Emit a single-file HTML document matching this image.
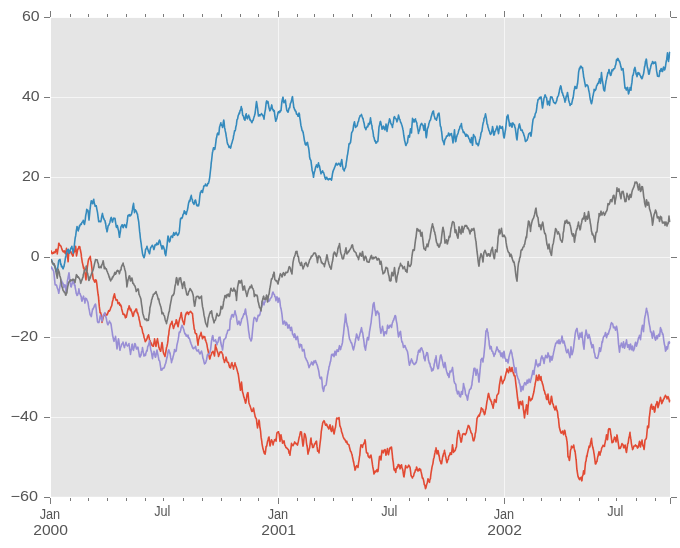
<!DOCTYPE html>
<html><head><meta charset="utf-8"><title>plot</title>
<style>html,body{margin:0;padding:0;background:#fff;}body{width:680px;height:548px;overflow:hidden;}svg{display:block;}text{font-family:"Liberation Sans",sans-serif;font-size:14px;fill:#555555;}</style>
</head><body>
<svg width="680" height="548" viewBox="0 0 680 548">
<rect x="0" y="0" width="680" height="548" fill="#ffffff"/>
<rect x="51" y="17.9" width="619" height="478.9" fill="#E5E5E5"/>
<g fill="#F5F5F5" shape-rendering="crispEdges">
<rect x="51" y="97" width="619" height="1"/>
<rect x="51" y="177" width="619" height="1"/>
<rect x="51" y="257" width="619" height="1"/>
<rect x="51" y="337" width="619" height="1"/>
<rect x="51" y="417" width="619" height="1"/>
<rect x="278" y="17.75" width="1" height="478.75"/>
<rect x="504" y="17.75" width="1" height="478.75"/>
</g>
<g fill="#7A7A7A">
<rect x="44" y="17" width="6" height="1"/>
<rect x="671" y="17" width="6" height="1"/>
<rect x="44" y="97" width="6" height="1"/>
<rect x="671" y="97" width="6" height="1"/>
<rect x="44" y="177" width="6" height="1"/>
<rect x="671" y="177" width="6" height="1"/>
<rect x="44" y="257" width="6" height="1"/>
<rect x="671" y="257" width="6" height="1"/>
<rect x="44" y="337" width="6" height="1"/>
<rect x="671" y="337" width="6" height="1"/>
<rect x="44" y="417" width="6" height="1"/>
<rect x="671" y="417" width="6" height="1"/>
<rect x="44" y="497" width="6" height="1"/>
<rect x="671" y="497" width="6" height="1"/>
<rect x="50" y="11" width="1" height="6"/>
<rect x="50" y="498" width="1" height="6"/>
<rect x="278" y="11" width="1" height="6"/>
<rect x="278" y="498" width="1" height="6"/>
<rect x="504" y="11" width="1" height="6"/>
<rect x="504" y="498" width="1" height="6"/>
<rect x="670" y="11" width="1" height="6"/>
<rect x="670" y="498" width="1" height="6"/>
<rect x="70" y="14" width="1" height="3"/>
<rect x="70" y="498" width="1" height="3"/>
<rect x="88" y="14" width="1" height="3"/>
<rect x="88" y="498" width="1" height="3"/>
<rect x="107" y="14" width="1" height="3"/>
<rect x="107" y="498" width="1" height="3"/>
<rect x="126" y="14" width="1" height="3"/>
<rect x="126" y="498" width="1" height="3"/>
<rect x="145" y="14" width="1" height="3"/>
<rect x="145" y="498" width="1" height="3"/>
<rect x="163" y="14" width="1" height="3"/>
<rect x="163" y="498" width="1" height="3"/>
<rect x="183" y="14" width="1" height="3"/>
<rect x="183" y="498" width="1" height="3"/>
<rect x="202" y="14" width="1" height="3"/>
<rect x="202" y="498" width="1" height="3"/>
<rect x="221" y="14" width="1" height="3"/>
<rect x="221" y="498" width="1" height="3"/>
<rect x="240" y="14" width="1" height="3"/>
<rect x="240" y="498" width="1" height="3"/>
<rect x="258" y="14" width="1" height="3"/>
<rect x="258" y="498" width="1" height="3"/>
<rect x="297" y="14" width="1" height="3"/>
<rect x="297" y="498" width="1" height="3"/>
<rect x="314" y="14" width="1" height="3"/>
<rect x="314" y="498" width="1" height="3"/>
<rect x="333" y="14" width="1" height="3"/>
<rect x="333" y="498" width="1" height="3"/>
<rect x="352" y="14" width="1" height="3"/>
<rect x="352" y="498" width="1" height="3"/>
<rect x="371" y="14" width="1" height="3"/>
<rect x="371" y="498" width="1" height="3"/>
<rect x="390" y="14" width="1" height="3"/>
<rect x="390" y="498" width="1" height="3"/>
<rect x="409" y="14" width="1" height="3"/>
<rect x="409" y="498" width="1" height="3"/>
<rect x="428" y="14" width="1" height="3"/>
<rect x="428" y="498" width="1" height="3"/>
<rect x="447" y="14" width="1" height="3"/>
<rect x="447" y="498" width="1" height="3"/>
<rect x="466" y="14" width="1" height="3"/>
<rect x="466" y="498" width="1" height="3"/>
<rect x="485" y="14" width="1" height="3"/>
<rect x="485" y="498" width="1" height="3"/>
<rect x="523" y="14" width="1" height="3"/>
<rect x="523" y="498" width="1" height="3"/>
<rect x="541" y="14" width="1" height="3"/>
<rect x="541" y="498" width="1" height="3"/>
<rect x="560" y="14" width="1" height="3"/>
<rect x="560" y="498" width="1" height="3"/>
<rect x="579" y="14" width="1" height="3"/>
<rect x="579" y="498" width="1" height="3"/>
<rect x="598" y="14" width="1" height="3"/>
<rect x="598" y="498" width="1" height="3"/>
<rect x="616" y="14" width="1" height="3"/>
<rect x="616" y="498" width="1" height="3"/>
<rect x="636" y="14" width="1" height="3"/>
<rect x="636" y="498" width="1" height="3"/>
<rect x="655" y="14" width="1" height="3"/>
<rect x="655" y="498" width="1" height="3"/>
</g>
<clipPath id="c"><rect x="51" y="17" width="619.5" height="480"/></clipPath>
<g clip-path="url(#c)" fill="none" stroke-width="1.6" stroke-linejoin="round" stroke-linecap="butt">
<path stroke="#E24A33" d="M51.00 250.36 L51.62 252.87 L52.24 253.77 L52.25 253.54 L52.86 252.68 L53.48 253.15 L53.50 252.83 L54.10 251.87 L54.72 252.76 L55.00 252.54 L55.34 252.03 L55.96 249.46 L56.25 249.38 L56.58 250.78 L57.20 252.48 L57.25 253.90 L57.82 249.94 L58.44 246.99 L58.75 243.18 L59.06 243.43 L59.68 245.23 L60.30 245.33 L60.62 245.87 L60.92 246.11 L61.54 248.06 L61.88 249.04 L62.16 249.94 L62.78 251.11 L63.12 251.58 L63.40 251.91 L64.02 251.03 L64.38 250.82 L64.64 251.43 L65.26 253.60 L65.62 253.74 L65.88 252.23 L66.50 248.31 L67.12 252.79 L67.50 256.77 L67.74 258.22 L68.12 261.80 L68.36 258.09 L68.75 253.30 L68.98 253.32 L69.60 252.07 L70.22 250.56 L70.62 251.52 L70.84 251.51 L71.46 253.84 L71.88 254.01 L72.08 254.27 L72.70 256.08 L73.12 256.02 L73.32 254.11 L73.94 252.25 L74.38 251.87 L74.56 251.57 L75.18 248.36 L75.62 246.33 L75.80 247.47 L76.42 255.18 L76.50 255.93 L77.04 253.03 L77.66 249.70 L78.12 248.54 L78.28 249.10 L78.90 246.64 L79.52 247.08 L79.75 246.60 L80.14 248.74 L80.76 251.76 L81.25 254.38 L81.38 256.41 L82.00 260.30 L82.25 262.25 L82.62 263.63 L83.24 266.49 L83.50 268.23 L83.86 267.22 L84.48 271.04 L84.75 271.92 L85.10 273.29 L85.72 278.51 L86.00 279.84 L86.34 275.05 L86.96 270.73 L87.25 267.85 L87.58 265.45 L88.20 261.37 L88.50 259.73 L88.82 259.00 L89.44 258.02 L90.06 257.42 L90.25 256.37 L90.68 260.16 L91.25 262.20 L91.30 263.31 L91.92 268.41 L92.25 272.23 L92.54 273.82 L93.16 278.84 L93.50 279.58 L93.78 279.66 L94.40 281.43 L94.75 282.18 L95.02 281.70 L95.62 279.84 L95.64 280.55 L96.26 280.42 L96.50 281.79 L96.88 284.38 L97.50 289.80 L98.12 294.76 L98.50 296.92 L98.74 300.28 L98.75 300.33 L99.36 306.90 L99.98 311.34 L100.00 312.65 L100.60 312.47 L101.22 314.90 L101.25 315.54 L101.84 320.76 L102.00 322.40 L102.46 320.65 L103.08 317.88 L103.70 315.23 L103.75 314.79 L104.32 315.35 L104.94 314.77 L105.50 313.69 L105.56 314.00 L106.18 314.55 L106.80 315.12 L107.00 314.61 L107.42 314.21 L108.04 312.38 L108.66 310.67 L108.75 311.11 L109.28 311.21 L109.90 310.29 L110.50 308.79 L110.52 308.29 L111.14 306.83 L111.76 305.71 L112.00 304.13 L112.38 301.75 L113.00 299.72 L113.25 298.34 L113.62 296.48 L114.24 294.92 L114.50 293.76 L114.86 295.87 L115.48 298.56 L115.75 298.98 L116.10 300.17 L116.72 299.75 L117.34 300.23 L117.50 301.39 L117.96 303.70 L118.58 302.85 L119.20 302.57 L119.50 303.82 L119.82 305.21 L120.44 304.37 L121.06 306.54 L121.25 306.08 L121.68 308.98 L122.30 311.30 L122.92 313.62 L123.00 314.31 L123.54 313.91 L124.16 314.24 L124.50 315.52 L124.78 314.79 L125.40 317.82 L126.02 317.14 L126.25 317.21 L126.64 315.55 L127.26 312.54 L127.88 309.49 L128.00 308.70 L128.50 308.92 L129.12 305.82 L129.50 306.84 L129.74 307.40 L130.36 310.36 L130.98 309.20 L131.25 311.15 L131.60 311.45 L132.22 313.56 L132.84 316.24 L133.00 316.37 L133.46 315.72 L134.08 312.23 L134.50 311.33 L134.70 311.79 L135.32 310.71 L135.94 308.96 L136.25 309.07 L136.56 309.03 L137.18 312.80 L137.50 312.54 L137.80 313.42 L138.42 315.76 L139.00 317.74 L139.04 318.95 L139.66 321.25 L140.28 324.71 L140.50 326.41 L140.90 326.31 L141.52 326.76 L142.00 328.98 L142.14 329.08 L142.76 332.80 L143.38 333.95 L143.75 335.44 L144.00 337.16 L144.62 338.84 L145.24 341.63 L145.50 341.40 L145.86 340.87 L146.48 340.03 L147.00 338.65 L147.10 338.55 L147.72 336.00 L148.34 335.76 L148.50 334.77 L148.96 336.60 L149.58 339.99 L150.00 341.51 L150.20 340.88 L150.82 344.02 L151.44 343.24 L151.50 343.98 L152.06 345.35 L152.68 345.87 L153.00 346.30 L153.30 346.26 L153.92 343.04 L154.50 340.12 L154.54 338.89 L155.16 342.23 L155.78 346.15 L156.00 346.30 L156.40 343.58 L157.02 340.70 L157.50 338.66 L157.64 340.05 L158.26 343.45 L158.88 347.50 L159.00 347.27 L159.50 349.44 L160.12 349.95 L160.50 351.17 L160.74 351.06 L161.36 346.29 L161.98 342.52 L162.00 342.44 L162.60 346.23 L163.22 351.72 L163.50 352.89 L163.84 353.85 L164.46 355.03 L165.00 356.54 L165.08 355.73 L165.70 352.48 L166.32 348.83 L166.50 347.52 L166.94 346.45 L167.56 343.43 L168.00 340.37 L168.18 337.09 L168.80 334.29 L169.00 331.45 L169.42 328.83 L170.04 326.03 L170.50 324.07 L170.66 324.31 L171.28 323.05 L171.90 321.52 L172.00 321.26 L172.52 324.43 L173.14 326.89 L173.50 328.50 L173.76 327.45 L174.38 325.72 L175.00 323.84 L175.62 323.78 L176.24 319.69 L176.50 320.13 L176.86 321.44 L177.48 324.29 L178.00 326.63 L178.10 326.70 L178.72 323.14 L179.34 320.28 L179.50 319.62 L179.96 317.98 L180.58 316.24 L181.20 312.53 L181.25 312.70 L181.82 316.42 L182.44 319.92 L182.50 320.30 L183.06 321.79 L183.68 323.35 L184.00 324.67 L184.30 323.65 L184.92 318.61 L185.50 314.91 L185.54 315.50 L186.16 313.13 L186.78 313.68 L187.00 312.19 L187.40 312.03 L188.02 312.58 L188.64 314.40 L188.75 313.42 L189.26 312.57 L189.88 312.14 L190.50 311.31 L191.12 312.04 L191.74 313.07 L192.36 313.32 L192.50 313.72 L192.98 318.96 L193.60 324.10 L193.75 324.87 L194.22 329.02 L194.84 330.15 L195.00 332.52 L195.46 333.35 L196.08 334.08 L196.50 333.78 L196.70 334.98 L197.32 340.31 L197.94 344.41 L198.00 345.13 L198.56 339.73 L199.18 338.38 L199.50 336.03 L199.80 336.16 L200.42 334.47 L201.00 332.70 L201.04 332.38 L201.66 335.55 L202.28 337.59 L202.50 338.81 L202.90 337.99 L203.52 336.44 L204.00 336.80 L204.14 337.11 L204.76 336.71 L205.38 340.33 L205.50 339.61 L206.00 341.50 L206.62 343.33 L207.00 344.85 L207.24 346.57 L207.86 349.79 L208.48 352.62 L208.50 353.75 L209.10 356.01 L209.72 359.06 L210.00 358.63 L210.34 356.78 L210.96 355.28 L211.50 353.93 L211.58 353.00 L212.20 352.08 L212.82 351.94 L213.00 351.25 L213.44 352.87 L214.06 354.34 L214.50 356.02 L214.68 354.00 L215.30 347.14 L215.50 344.91 L215.92 346.70 L216.54 348.85 L217.00 350.15 L217.16 351.00 L217.78 352.63 L218.40 355.05 L218.50 356.47 L219.02 354.96 L219.64 353.49 L220.00 352.18 L220.26 352.27 L220.88 351.76 L221.50 351.76 L222.12 353.32 L222.74 354.47 L223.00 356.27 L223.36 358.57 L223.98 359.84 L224.50 362.53 L224.60 361.40 L225.22 360.57 L225.84 359.34 L226.00 357.15 L226.46 358.72 L227.08 361.74 L227.50 362.10 L227.70 362.48 L228.32 362.21 L228.94 364.77 L229.00 365.26 L229.56 367.13 L230.18 367.81 L230.50 367.84 L230.80 366.52 L231.42 363.66 L232.00 362.70 L232.04 363.94 L232.66 365.45 L233.28 366.97 L233.50 369.12 L233.90 366.05 L234.52 365.72 L235.00 362.91 L235.14 363.66 L235.76 365.76 L236.38 367.32 L236.50 367.86 L237.00 369.59 L237.62 371.94 L238.00 373.56 L238.24 374.14 L238.86 378.28 L239.48 383.07 L239.50 382.73 L240.10 387.67 L240.50 390.26 L240.72 388.46 L241.34 383.97 L241.50 382.13 L241.96 386.36 L242.50 391.86 L242.58 391.95 L243.20 394.07 L243.82 396.97 L244.00 396.97 L244.44 398.75 L245.06 401.00 L245.50 403.15 L245.68 403.24 L246.30 399.76 L246.92 395.34 L247.00 395.10 L247.54 392.94 L248.00 392.63 L248.16 394.63 L248.78 401.37 L249.00 402.94 L249.40 404.17 L250.02 405.81 L250.50 407.27 L250.64 407.43 L251.26 409.83 L251.88 411.35 L252.00 411.26 L252.50 411.33 L253.12 409.28 L253.50 408.00 L253.74 409.19 L254.36 412.78 L254.98 415.48 L255.00 415.98 L255.60 417.79 L256.22 418.48 L256.50 419.42 L256.84 423.07 L257.46 427.04 L257.50 427.87 L258.08 424.59 L258.70 422.56 L259.00 420.13 L259.32 421.17 L259.94 427.92 L260.00 427.44 L260.56 431.02 L261.00 436.28 L261.18 437.71 L261.80 441.35 L262.00 443.58 L262.42 445.88 L263.04 449.07 L263.50 450.32 L263.66 451.34 L264.28 453.12 L264.90 452.46 L265.00 454.30 L265.52 451.77 L266.14 446.35 L266.50 446.47 L266.76 445.79 L267.38 442.04 L268.00 439.89 L268.62 437.48 L269.00 436.99 L269.24 439.19 L269.86 444.95 L270.00 445.96 L270.48 444.36 L271.10 441.06 L271.50 439.77 L271.72 440.53 L272.34 441.54 L272.96 443.84 L273.00 445.02 L273.58 442.53 L274.20 440.93 L274.50 439.73 L274.82 439.89 L275.44 439.42 L276.00 440.92 L276.06 441.13 L276.68 434.56 L277.00 432.81 L277.30 432.34 L277.92 432.56 L278.50 431.75 L278.54 432.18 L279.16 434.00 L279.78 439.75 L280.00 441.41 L280.40 438.12 L281.00 434.76 L281.02 435.07 L281.64 438.46 L282.26 441.15 L282.50 443.19 L282.88 441.40 L283.50 442.61 L284.00 440.86 L284.12 441.13 L284.74 445.02 L285.36 445.77 L285.50 446.54 L285.98 447.61 L286.60 447.64 L287.00 448.44 L287.22 448.52 L287.84 449.21 L288.46 449.77 L288.50 450.21 L289.08 453.37 L289.70 453.63 L290.00 455.27 L290.32 451.62 L290.94 448.33 L291.50 443.40 L291.56 443.53 L292.18 445.33 L292.80 445.55 L293.00 445.70 L293.42 444.81 L294.04 443.54 L294.50 442.66 L294.66 441.93 L295.28 442.94 L295.90 443.71 L296.00 443.29 L296.52 444.11 L297.14 444.12 L297.50 445.12 L297.76 443.84 L298.38 441.22 L299.00 438.07 L299.62 435.88 L300.24 432.91 L300.50 431.74 L300.86 432.00 L301.48 432.10 L301.50 433.05 L302.10 438.76 L302.72 444.19 L303.00 446.10 L303.34 444.59 L303.96 438.85 L304.50 433.48 L304.58 433.88 L305.20 434.59 L305.82 437.41 L306.00 438.20 L306.44 442.52 L307.00 446.13 L307.06 445.45 L307.68 451.23 L308.00 454.13 L308.30 452.60 L308.92 450.81 L309.50 447.73 L309.54 448.34 L310.16 443.74 L310.78 438.93 L311.00 438.12 L311.40 442.58 L312.00 444.85 L312.02 443.73 L312.64 447.54 L313.26 447.39 L313.50 447.32 L313.88 446.13 L314.50 443.92 L315.00 443.95 L315.12 443.65 L315.74 442.07 L316.36 441.19 L316.50 441.13 L316.98 446.20 L317.50 449.95 L317.60 451.17 L318.22 450.85 L318.84 452.25 L319.00 452.86 L319.46 448.48 L320.08 443.22 L320.50 439.79 L320.70 438.45 L321.32 430.96 L321.50 430.36 L321.94 427.32 L322.50 424.19 L322.56 423.50 L323.18 421.69 L323.80 421.49 L324.00 420.67 L324.42 421.44 L325.04 423.64 L325.50 425.04 L325.66 425.27 L326.28 424.06 L326.90 424.62 L327.00 425.52 L327.52 426.81 L328.14 427.60 L328.50 428.26 L328.76 429.04 L329.38 426.33 L330.00 424.71 L330.62 428.70 L331.24 430.96 L331.50 431.54 L331.86 430.03 L332.48 426.75 L332.50 425.98 L333.10 429.27 L333.72 432.60 L334.00 433.93 L334.34 432.67 L334.96 429.04 L335.50 427.33 L335.58 426.63 L336.20 421.76 L336.50 419.26 L336.82 418.06 L337.44 418.18 L338.00 418.84 L338.06 418.70 L338.68 418.65 L339.00 417.47 L339.30 420.18 L339.92 426.21 L340.00 425.70 L340.54 427.29 L341.16 428.95 L341.50 431.59 L341.78 432.20 L342.40 433.85 L343.00 436.29 L343.02 436.22 L343.64 437.95 L344.26 439.17 L344.50 439.01 L344.88 439.62 L345.50 440.95 L346.00 441.48 L346.12 442.27 L346.74 441.20 L347.36 443.76 L347.50 443.77 L347.98 444.26 L348.60 444.49 L349.00 444.98 L349.22 446.26 L349.84 448.64 L350.46 451.17 L350.50 450.95 L351.08 451.82 L351.70 453.73 L352.00 454.50 L352.32 456.24 L352.94 459.11 L353.50 462.00 L353.56 461.42 L354.18 465.34 L354.80 468.16 L355.00 470.11 L355.42 469.19 L356.04 466.70 L356.50 466.11 L356.66 465.68 L357.28 466.35 L357.90 467.17 L358.00 467.49 L358.52 463.16 L359.14 459.53 L359.50 456.43 L359.76 455.58 L360.38 448.44 L361.00 444.69 L361.62 445.48 L362.24 445.86 L362.50 447.42 L362.86 445.15 L363.48 444.21 L364.00 443.27 L364.10 443.11 L364.72 441.61 L365.00 439.83 L365.34 441.36 L365.96 448.11 L366.50 452.54 L366.58 452.94 L367.20 452.94 L367.82 453.31 L368.00 455.59 L368.44 456.71 L369.06 457.33 L369.50 457.86 L369.68 457.77 L370.30 455.53 L370.92 455.83 L371.00 455.05 L371.54 458.49 L372.16 462.43 L372.50 464.98 L372.78 466.73 L373.40 469.97 L374.00 474.02 L374.02 473.86 L374.64 472.62 L375.26 471.05 L375.50 471.59 L375.88 471.84 L376.50 470.90 L377.00 469.48 L377.12 469.91 L377.74 471.62 L378.00 471.26 L378.36 468.54 L378.98 461.14 L379.50 456.47 L379.60 456.87 L380.22 456.34 L380.84 459.32 L381.00 459.93 L381.46 455.19 L382.00 450.25 L382.08 451.72 L382.70 451.35 L383.32 452.81 L383.50 452.13 L383.94 450.17 L384.56 450.05 L385.00 449.61 L385.18 449.98 L385.80 454.27 L386.00 455.22 L386.42 452.94 L387.04 450.62 L387.50 448.54 L387.66 450.43 L388.28 454.47 L388.50 454.64 L388.90 452.41 L389.52 449.59 L390.00 447.92 L390.14 448.58 L390.76 447.22 L391.38 448.58 L391.50 447.16 L392.00 451.87 L392.50 456.62 L392.62 458.50 L393.24 462.13 L393.86 468.14 L394.00 469.46 L394.48 470.37 L395.10 469.05 L395.50 471.33 L395.72 472.36 L396.34 468.34 L396.96 468.24 L397.00 466.92 L397.58 467.45 L398.20 464.51 L398.50 464.73 L398.82 466.04 L399.44 465.22 L400.00 468.35 L400.06 468.83 L400.68 465.98 L401.30 465.49 L401.50 464.73 L401.92 467.69 L402.54 468.98 L403.00 470.99 L403.16 472.62 L403.78 476.59 L404.00 476.96 L404.40 474.33 L405.02 470.03 L405.50 466.11 L405.64 465.58 L406.26 467.51 L406.88 467.61 L407.00 467.62 L407.50 467.77 L408.12 466.44 L408.50 465.54 L408.74 465.21 L409.36 466.20 L409.98 467.41 L410.00 467.14 L410.60 471.52 L411.00 475.25 L411.22 476.03 L411.84 476.75 L412.46 478.04 L412.50 477.18 L413.08 476.69 L413.70 475.73 L414.00 474.02 L414.32 473.04 L414.94 472.03 L415.50 469.64 L415.56 469.54 L416.18 469.74 L416.50 467.04 L416.80 467.44 L417.42 470.38 L418.00 471.07 L418.04 470.79 L418.66 469.37 L419.28 470.29 L419.50 468.58 L419.90 469.22 L420.52 469.18 L421.00 471.47 L421.14 471.83 L421.76 474.77 L422.38 478.11 L422.50 477.54 L423.00 478.33 L423.62 480.52 L424.00 482.52 L424.24 484.42 L424.86 485.24 L425.48 488.49 L425.50 488.71 L426.10 487.21 L426.72 484.06 L427.00 483.84 L427.34 482.60 L427.96 478.92 L428.00 478.72 L428.58 480.44 L429.20 481.76 L429.50 482.35 L429.82 479.80 L430.44 478.63 L430.50 477.44 L431.06 472.97 L431.68 469.25 L432.00 467.15 L432.30 465.86 L432.92 463.62 L433.50 459.37 L433.54 458.97 L434.16 457.24 L434.78 453.39 L435.00 452.72 L435.40 450.37 L436.00 449.49 L436.02 447.76 L436.64 451.63 L437.00 453.96 L437.26 453.76 L437.88 452.03 L438.00 450.48 L438.50 452.76 L439.00 456.14 L439.12 455.31 L439.74 459.66 L440.36 461.61 L440.50 461.00 L440.98 463.73 L441.50 463.37 L441.60 463.64 L442.22 459.58 L442.84 455.83 L443.00 456.36 L443.46 453.68 L444.08 452.95 L444.50 450.25 L444.70 451.72 L445.32 454.88 L445.50 456.29 L445.94 457.64 L446.56 461.24 L447.00 462.67 L447.18 461.95 L447.80 459.74 L448.42 459.15 L448.50 457.31 L449.04 455.84 L449.66 455.14 L450.00 453.75 L450.28 452.75 L450.90 454.10 L451.50 454.39 L451.52 453.61 L452.14 448.56 L452.50 444.68 L452.76 446.64 L453.38 450.37 L453.50 452.44 L454.00 451.30 L454.62 451.19 L455.00 450.58 L455.24 450.31 L455.86 447.96 L456.48 446.83 L456.50 446.28 L457.10 438.54 L457.50 436.34 L457.72 434.08 L458.34 432.08 L458.50 430.56 L458.96 432.39 L459.58 433.77 L460.00 436.90 L460.20 437.68 L460.82 441.33 L461.00 442.11 L461.44 441.69 L462.06 437.52 L462.50 434.98 L462.68 434.16 L463.30 434.10 L463.92 433.65 L464.00 433.63 L464.54 433.97 L465.16 434.89 L465.50 434.01 L465.78 433.82 L466.40 432.57 L467.00 429.62 L467.02 429.81 L467.64 427.81 L468.26 425.42 L468.50 425.77 L468.88 425.84 L469.50 427.32 L470.12 429.56 L470.74 431.35 L471.00 432.58 L471.36 433.14 L471.98 433.80 L472.50 436.65 L472.60 437.01 L473.22 440.66 L473.50 440.74 L473.84 440.85 L474.46 438.63 L475.00 436.24 L475.08 434.27 L475.70 431.95 L476.00 429.81 L476.32 426.26 L476.94 419.46 L477.00 418.50 L477.56 417.45 L478.18 416.20 L478.50 415.91 L478.80 415.08 L479.42 416.07 L480.00 413.42 L480.04 413.50 L480.66 412.09 L481.28 407.74 L481.50 408.17 L481.90 408.81 L482.52 408.94 L483.00 409.93 L483.14 411.50 L483.76 411.97 L484.38 414.33 L484.50 414.62 L485.00 413.68 L485.62 409.32 L486.00 409.09 L486.24 406.58 L486.86 402.21 L487.00 401.42 L487.48 399.19 L488.10 395.00 L488.50 393.42 L488.72 393.90 L489.34 397.12 L489.96 398.79 L490.00 399.73 L490.58 399.67 L491.20 401.71 L491.50 401.49 L491.82 404.00 L492.44 405.18 L493.00 407.67 L493.06 408.26 L493.68 404.60 L494.30 400.70 L494.50 399.63 L494.92 401.26 L495.54 400.37 L496.00 402.37 L496.16 402.05 L496.78 396.47 L497.00 395.13 L497.40 394.81 L498.02 394.06 L498.50 393.30 L498.64 392.34 L499.26 386.66 L499.50 384.66 L499.88 382.58 L500.50 378.71 L501.00 376.36 L501.12 377.71 L501.74 380.50 L502.36 382.56 L502.50 383.81 L502.98 382.55 L503.60 380.67 L504.00 380.36 L504.22 379.88 L504.84 378.15 L505.46 375.49 L505.50 375.51 L506.08 372.84 L506.70 371.05 L507.00 368.69 L507.32 369.53 L507.94 370.92 L508.50 372.63 L508.56 372.16 L509.18 369.96 L509.50 366.97 L509.80 367.67 L510.42 370.60 L511.00 371.46 L511.04 371.59 L511.66 369.14 L512.00 367.49 L512.28 368.89 L512.90 371.63 L513.50 373.78 L513.52 372.47 L514.14 375.78 L514.76 375.51 L515.00 376.09 L515.38 379.34 L516.00 384.80 L516.62 389.55 L517.24 395.27 L517.50 397.75 L517.86 399.99 L518.48 405.18 L519.00 408.37 L519.10 408.53 L519.72 402.55 L520.00 401.45 L520.34 401.58 L520.96 403.23 L521.50 404.65 L521.58 403.81 L522.20 402.22 L522.50 400.98 L522.82 403.89 L523.44 410.27 L523.50 409.76 L524.06 414.26 L524.50 417.97 L524.68 416.13 L525.30 411.58 L525.50 410.07 L525.92 408.63 L526.50 404.80 L526.54 405.20 L527.16 410.66 L527.50 414.09 L527.78 409.78 L528.40 403.37 L529.00 396.47 L529.02 396.73 L529.64 397.89 L530.26 399.73 L530.50 400.73 L530.88 400.24 L531.50 399.40 L532.00 398.33 L532.12 398.94 L532.74 396.40 L533.36 394.05 L533.50 393.60 L533.98 391.28 L534.60 387.13 L535.00 385.14 L535.22 383.38 L535.84 380.84 L536.46 375.34 L536.50 375.95 L537.08 378.96 L537.70 379.98 L538.00 380.46 L538.32 377.69 L538.94 375.34 L539.00 374.78 L539.56 377.94 L540.00 379.45 L540.18 380.08 L540.80 377.79 L541.00 376.64 L541.42 380.61 L542.04 381.77 L542.50 384.10 L542.66 383.93 L543.28 386.35 L543.90 390.20 L544.00 390.23 L544.52 391.21 L545.14 393.97 L545.50 394.63 L545.76 394.43 L546.38 398.70 L547.00 399.68 L547.62 396.64 L548.00 394.05 L548.24 396.11 L548.86 402.34 L549.00 402.60 L549.48 403.67 L550.00 404.50 L550.10 404.24 L550.72 400.79 L551.34 396.47 L551.50 396.24 L551.96 398.86 L552.50 403.30 L552.58 403.63 L553.20 404.28 L553.82 407.32 L554.00 407.01 L554.44 408.42 L555.00 410.01 L555.06 409.36 L555.68 408.19 L556.00 406.15 L556.30 407.82 L556.92 410.35 L557.50 411.89 L557.54 412.19 L558.16 417.95 L558.50 418.52 L558.78 422.04 L559.40 427.83 L559.50 427.49 L560.02 430.11 L560.64 431.94 L561.00 432.83 L561.26 433.11 L561.88 432.28 L562.50 430.97 L563.12 433.26 L563.50 434.62 L563.74 433.68 L564.36 431.10 L564.50 430.23 L564.98 431.03 L565.60 435.19 L566.00 436.60 L566.22 436.71 L566.84 440.50 L567.00 441.06 L567.46 446.31 L568.00 456.84 L568.08 456.65 L568.70 457.01 L569.32 460.44 L569.50 460.20 L569.94 456.59 L570.50 450.21 L570.56 450.15 L571.18 448.46 L571.50 446.17 L571.80 446.94 L572.42 447.10 L572.50 447.68 L573.04 446.80 L573.50 445.57 L573.66 445.00 L574.28 448.75 L574.90 451.57 L575.00 450.90 L575.52 454.91 L576.00 459.23 L576.14 459.73 L576.76 467.70 L577.00 470.22 L577.38 472.50 L578.00 476.29 L578.62 477.99 L579.24 479.14 L579.50 479.54 L579.86 477.99 L580.48 478.36 L581.00 477.28 L581.10 478.80 L581.72 480.85 L582.00 480.31 L582.34 476.51 L582.96 475.10 L583.50 471.28 L583.58 470.69 L584.20 472.15 L584.50 474.05 L584.82 469.70 L585.44 463.12 L585.50 462.52 L586.06 460.83 L586.68 455.71 L587.00 456.59 L587.30 454.18 L587.92 451.37 L588.50 448.92 L588.54 448.94 L589.16 446.03 L589.78 447.04 L590.00 446.21 L590.40 443.53 L591.02 440.72 L591.50 438.30 L591.64 440.35 L592.26 445.48 L592.50 446.07 L592.88 447.82 L593.50 450.23 L594.00 453.55 L594.12 453.84 L594.74 458.70 L595.36 464.03 L595.50 464.04 L595.98 463.63 L596.60 461.24 L597.00 461.48 L597.22 459.65 L597.84 456.43 L598.00 456.46 L598.46 453.88 L599.00 451.95 L599.08 451.68 L599.70 453.66 L600.00 455.21 L600.32 452.85 L600.94 451.56 L601.50 449.19 L601.56 448.52 L602.18 446.92 L602.80 446.72 L603.00 445.19 L603.42 445.97 L604.04 445.65 L604.50 446.33 L604.66 444.70 L605.28 441.80 L605.50 440.16 L605.90 439.23 L606.50 434.90 L606.52 435.41 L607.14 436.97 L607.50 439.78 L607.76 437.46 L608.38 429.80 L608.50 429.47 L609.00 428.62 L609.62 429.28 L610.00 428.92 L610.24 429.92 L610.86 434.58 L611.00 434.84 L611.48 438.68 L612.00 442.65 L612.10 442.76 L612.72 441.96 L613.34 441.90 L613.50 440.32 L613.96 439.47 L614.58 437.06 L615.00 437.74 L615.20 437.61 L615.82 440.77 L616.00 441.86 L616.44 439.21 L617.00 434.92 L617.06 435.18 L617.68 439.30 L618.00 441.16 L618.30 443.48 L618.92 447.46 L619.00 448.60 L619.54 447.45 L620.16 448.38 L620.50 447.75 L620.78 447.26 L621.40 445.48 L622.00 443.58 L622.02 444.19 L622.64 444.27 L623.26 445.15 L623.50 447.17 L623.88 447.91 L624.50 446.00 L625.00 445.43 L625.12 445.06 L625.74 449.16 L626.36 452.46 L626.50 452.28 L626.98 448.84 L627.50 445.30 L627.60 444.21 L628.22 442.88 L628.84 437.94 L629.00 437.79 L629.46 435.49 L630.00 432.29 L630.08 434.33 L630.70 438.22 L631.00 439.79 L631.32 443.04 L631.94 446.43 L632.50 448.64 L632.56 449.74 L633.18 448.45 L633.80 446.23 L634.00 446.09 L634.42 445.98 L635.04 445.84 L635.50 444.94 L635.66 445.87 L636.28 445.72 L636.90 446.05 L637.00 447.03 L637.52 448.12 L638.14 447.29 L638.50 446.58 L638.76 444.95 L639.38 441.91 L639.50 441.39 L640.00 444.45 L640.50 447.02 L640.62 445.76 L641.24 442.59 L641.86 440.76 L642.00 439.96 L642.48 443.99 L643.00 445.95 L643.10 445.18 L643.72 447.21 L644.00 449.49 L644.34 447.61 L644.96 440.62 L645.00 440.30 L645.58 439.41 L646.20 438.78 L646.50 437.30 L646.82 434.18 L647.44 427.55 L647.50 426.17 L648.06 427.01 L648.50 427.62 L648.68 426.74 L649.30 416.96 L649.50 416.10 L649.92 412.84 L650.50 407.43 L650.54 407.29 L651.16 405.33 L651.50 404.23 L651.78 406.04 L652.40 409.23 L652.50 408.65 L653.02 407.76 L653.50 406.56 L653.64 406.67 L654.26 410.94 L654.50 412.14 L654.88 411.23 L655.50 406.73 L656.12 404.04 L656.74 403.52 L657.00 401.49 L657.36 402.22 L657.98 407.72 L658.00 407.57 L658.60 405.60 L659.00 403.94 L659.22 402.44 L659.84 400.77 L660.46 397.40 L660.50 397.53 L661.08 400.11 L661.50 401.80 L661.70 403.67 L662.32 402.21 L662.94 400.01 L663.00 401.08 L663.56 399.11 L664.18 398.56 L664.50 396.82 L664.80 397.36 L665.42 395.27 L665.50 395.77 L666.04 396.24 L666.66 397.18 L667.00 398.92 L667.28 398.10 L667.90 397.54 L668.00 396.54 L668.52 397.75 L669.14 399.99 L669.50 401.80 L669.76 400.88 L670.00 399.53"/>
<path stroke="#348ABD" d="M51.00 259.40 L51.62 259.84 L52.24 262.13 L52.50 262.54 L52.86 263.80 L53.48 263.48 L53.75 264.88 L54.10 265.17 L54.72 266.19 L55.00 267.26 L55.34 268.33 L55.96 270.66 L56.25 271.63 L56.58 271.35 L57.20 269.12 L57.50 267.85 L57.82 267.50 L58.44 262.36 L58.75 260.41 L59.06 260.50 L59.68 259.86 L60.00 259.39 L60.30 261.20 L60.62 264.43 L60.92 263.75 L61.54 266.76 L61.88 265.90 L62.16 266.67 L62.78 268.08 L63.12 268.81 L63.40 267.74 L64.02 266.41 L64.38 263.98 L64.64 263.13 L65.26 259.03 L65.62 256.72 L65.88 256.83 L66.50 252.61 L66.88 251.82 L67.12 250.00 L67.74 250.68 L68.12 249.51 L68.36 249.28 L68.98 253.27 L69.38 252.66 L69.60 251.85 L70.22 250.41 L70.62 248.94 L70.84 248.11 L71.46 247.92 L71.88 246.24 L72.08 247.99 L72.70 249.69 L73.12 253.12 L73.32 250.95 L73.94 248.99 L74.38 245.25 L74.56 243.27 L75.18 237.92 L75.62 235.99 L75.80 234.84 L76.42 229.77 L76.50 230.04 L77.00 226.74 L77.04 226.50 L77.66 228.34 L78.25 230.94 L78.28 230.33 L78.90 228.66 L79.50 225.62 L79.52 226.79 L80.14 225.00 L80.76 224.00 L81.25 224.49 L81.38 223.74 L82.00 222.46 L82.62 221.97 L83.00 221.68 L83.24 220.35 L83.86 223.10 L84.48 224.26 L84.50 224.42 L85.10 220.98 L85.72 215.35 L86.34 212.61 L86.75 209.40 L86.96 209.70 L87.58 210.09 L88.00 210.62 L88.20 212.04 L88.82 218.13 L89.00 220.07 L89.44 215.77 L90.00 209.71 L90.06 209.40 L90.68 204.32 L91.25 200.89 L91.30 202.25 L91.92 201.11 L92.50 203.46 L92.54 203.76 L93.16 201.14 L93.75 199.20 L93.78 200.07 L94.40 203.63 L95.00 205.35 L95.02 206.13 L95.64 205.56 L96.25 205.96 L96.26 205.88 L96.88 209.31 L97.50 212.35 L98.12 217.03 L98.74 221.67 L98.75 220.69 L99.36 221.12 L99.98 221.61 L100.60 221.42 L100.75 221.75 L101.22 219.63 L101.84 215.96 L102.46 213.41 L102.50 214.19 L103.08 216.39 L103.70 218.83 L103.75 218.31 L104.32 219.99 L104.94 220.51 L105.50 223.63 L105.56 222.92 L106.18 227.93 L106.80 230.00 L107.00 231.80 L107.42 229.99 L108.04 226.48 L108.25 225.54 L108.66 225.48 L109.28 224.00 L109.90 222.47 L110.00 221.90 L110.52 219.53 L111.14 217.54 L111.25 217.34 L111.76 219.30 L112.38 222.09 L112.50 221.95 L113.00 219.93 L113.62 218.19 L113.75 218.61 L114.24 218.35 L114.86 218.40 L115.00 218.32 L115.48 221.82 L116.10 225.60 L116.25 226.83 L116.72 227.53 L117.34 225.59 L117.96 228.11 L118.00 229.08 L118.58 230.72 L119.20 235.33 L119.50 237.30 L119.82 234.76 L120.44 231.36 L120.75 227.89 L121.06 226.56 L121.68 225.70 L122.00 224.79 L122.30 224.84 L122.92 227.24 L123.25 227.58 L123.54 226.81 L124.16 225.03 L124.50 224.57 L124.78 224.89 L125.40 225.53 L126.02 227.46 L126.25 227.60 L126.64 224.94 L127.26 221.21 L127.88 215.78 L128.00 215.71 L128.50 214.97 L129.12 215.75 L129.50 214.64 L129.74 216.05 L130.36 215.85 L130.98 214.66 L131.25 214.69 L131.60 213.80 L132.22 210.53 L132.50 209.46 L132.84 206.63 L133.46 203.92 L133.50 203.30 L134.08 208.90 L134.50 212.59 L134.70 211.59 L135.32 209.78 L135.75 210.67 L135.94 210.66 L136.56 211.88 L137.18 214.08 L137.50 213.97 L137.80 216.98 L138.42 220.02 L138.75 222.19 L139.04 225.26 L139.66 231.66 L140.00 234.15 L140.28 237.50 L140.90 241.78 L141.25 244.23 L141.52 246.82 L142.14 250.97 L142.50 253.61 L142.76 254.63 L143.38 256.44 L144.00 257.79 L144.62 255.81 L145.24 252.06 L145.50 249.72 L145.86 249.10 L146.48 248.39 L147.00 246.26 L147.10 247.33 L147.72 248.96 L148.25 250.47 L148.34 251.19 L148.96 252.42 L149.50 253.73 L149.58 253.63 L150.20 249.63 L150.82 247.16 L151.25 246.98 L151.44 246.66 L152.06 245.53 L152.50 245.34 L152.68 246.15 L153.30 247.34 L153.75 249.31 L153.92 249.59 L154.54 247.30 L155.00 245.54 L155.16 244.73 L155.78 244.50 L156.40 244.96 L156.75 243.11 L157.02 244.73 L157.64 243.59 L158.00 244.44 L158.26 244.21 L158.88 241.32 L159.50 240.02 L160.12 241.28 L160.74 244.93 L160.75 244.82 L161.36 246.24 L161.98 249.06 L162.00 248.89 L162.60 245.93 L163.22 247.75 L163.25 245.93 L163.84 248.10 L164.46 249.65 L164.50 249.55 L165.08 254.06 L165.70 254.22 L165.75 255.66 L166.32 250.90 L166.94 246.08 L167.00 245.94 L167.56 240.06 L168.00 236.13 L168.18 236.31 L168.80 239.49 L169.42 241.90 L169.50 241.73 L170.04 240.84 L170.66 237.32 L171.25 236.03 L171.28 236.26 L171.90 236.28 L172.50 236.79 L172.52 237.55 L173.14 234.60 L173.75 233.17 L173.76 232.58 L174.38 235.10 L175.00 234.49 L175.62 233.16 L176.24 232.34 L176.25 232.44 L176.86 234.15 L177.48 234.50 L177.50 235.42 L178.10 234.82 L178.72 233.89 L179.25 231.72 L179.34 231.18 L179.96 224.50 L180.50 218.86 L180.58 219.18 L181.20 217.86 L181.82 218.46 L182.44 216.93 L182.50 216.99 L183.06 214.43 L183.68 213.85 L184.30 210.69 L184.50 211.56 L184.92 213.06 L185.54 212.14 L186.16 214.47 L186.25 214.39 L186.78 211.74 L187.40 210.18 L188.00 207.02 L188.02 206.57 L188.64 202.92 L189.26 200.99 L189.50 200.33 L189.88 201.33 L190.50 198.07 L191.12 196.00 L191.25 195.37 L191.74 198.92 L192.36 199.37 L192.50 201.17 L192.98 202.71 L193.60 203.55 L194.00 204.31 L194.22 203.73 L194.84 200.77 L195.46 200.09 L195.50 199.97 L196.08 202.54 L196.70 205.23 L197.00 205.55 L197.32 205.96 L197.94 205.03 L198.50 205.62 L198.56 205.83 L199.18 202.63 L199.80 196.48 L200.00 195.01 L200.42 192.41 L201.04 192.00 L201.25 190.99 L201.66 190.68 L202.28 191.24 L202.50 192.54 L202.90 190.22 L203.52 187.88 L203.75 186.18 L204.14 185.69 L204.76 185.84 L205.38 184.48 L205.50 183.97 L206.00 185.62 L206.62 185.77 L207.00 185.97 L207.24 185.18 L207.86 183.31 L208.48 183.33 L208.75 182.39 L209.10 180.76 L209.72 177.27 L210.00 174.77 L210.34 171.73 L210.96 166.29 L211.25 162.52 L211.58 160.51 L212.20 154.76 L212.50 152.23 L212.82 151.19 L213.44 147.79 L213.75 148.20 L214.06 147.82 L214.68 149.50 L215.00 148.40 L215.30 146.44 L215.92 141.63 L216.25 138.69 L216.54 137.86 L217.16 134.58 L217.50 133.45 L217.78 133.04 L218.40 134.25 L218.75 134.77 L219.02 132.47 L219.50 127.40 L219.64 126.68 L220.26 125.08 L220.88 122.71 L221.00 123.65 L221.50 125.29 L222.12 125.61 L222.50 127.43 L222.74 126.54 L223.36 121.85 L223.75 120.05 L223.98 121.31 L224.60 127.68 L225.00 129.14 L225.22 130.91 L225.84 133.31 L226.25 136.43 L226.46 137.39 L227.08 141.49 L227.50 143.59 L227.70 144.30 L228.32 144.98 L228.94 147.08 L229.00 147.50 L229.56 146.40 L230.18 146.85 L230.50 148.14 L230.80 147.46 L231.42 144.36 L232.00 142.67 L232.04 142.64 L232.66 140.14 L233.28 138.15 L233.50 136.07 L233.90 134.72 L234.50 131.31 L234.52 130.74 L235.14 130.81 L235.50 129.63 L235.76 127.21 L236.38 124.90 L237.00 119.69 L237.62 118.88 L238.00 116.55 L238.24 115.48 L238.86 114.19 L239.48 112.20 L239.50 113.73 L240.10 110.27 L240.72 110.16 L241.25 106.52 L241.34 107.53 L241.96 108.89 L242.50 113.65 L242.58 114.96 L243.20 115.76 L243.82 117.56 L244.00 118.61 L244.44 119.57 L245.00 120.25 L245.06 119.53 L245.68 115.13 L246.25 113.84 L246.30 114.64 L246.92 118.07 L247.50 118.80 L247.54 118.75 L248.16 116.38 L248.75 115.21 L248.78 116.38 L249.40 116.88 L250.00 120.02 L250.02 119.28 L250.64 120.30 L251.26 121.44 L251.88 122.70 L252.00 122.26 L252.50 120.86 L253.12 120.27 L253.74 117.89 L253.75 117.70 L254.36 115.95 L254.98 113.67 L255.00 113.87 L255.60 109.12 L256.22 103.58 L256.50 101.54 L256.84 103.37 L257.46 107.89 L257.50 107.50 L258.08 113.09 L258.50 116.06 L258.70 115.68 L259.32 114.73 L259.94 115.91 L260.00 115.14 L260.56 114.68 L261.18 114.46 L261.50 113.51 L261.80 114.32 L262.42 114.92 L263.00 115.71 L263.04 116.16 L263.66 117.27 L264.00 119.16 L264.28 116.34 L264.90 112.30 L265.50 109.03 L265.52 108.59 L266.14 102.99 L266.50 101.31 L266.76 100.84 L267.38 102.91 L268.00 101.69 L268.62 105.65 L269.00 107.96 L269.24 108.46 L269.86 110.81 L270.48 109.89 L270.50 109.72 L271.10 107.80 L271.72 104.91 L271.75 104.99 L272.34 108.55 L272.96 110.07 L273.00 109.21 L273.58 111.10 L274.20 110.49 L274.25 110.69 L274.82 115.58 L275.44 119.46 L275.75 121.26 L276.06 120.23 L276.68 118.97 L277.00 117.66 L277.30 116.18 L277.92 113.25 L278.00 112.44 L278.54 111.78 L279.16 112.53 L279.50 111.18 L279.78 112.44 L280.40 110.96 L281.00 110.02 L281.02 110.63 L281.64 104.04 L282.00 101.19 L282.26 99.90 L282.88 97.51 L283.00 97.20 L283.50 101.24 L284.00 102.65 L284.12 101.63 L284.74 101.29 L285.36 100.07 L285.50 101.46 L285.98 105.24 L286.60 109.19 L286.75 110.10 L287.22 111.13 L287.84 112.05 L288.00 112.18 L288.46 110.78 L289.08 108.05 L289.50 107.77 L289.70 107.79 L290.32 103.59 L290.94 102.53 L291.00 102.17 L291.56 100.53 L292.18 97.38 L292.50 96.66 L292.80 99.74 L293.42 104.19 L293.75 107.36 L294.04 107.66 L294.66 109.73 L295.00 109.73 L295.28 111.01 L295.90 111.25 L296.50 114.05 L296.52 114.12 L297.14 113.98 L297.76 115.29 L298.00 116.29 L298.38 116.01 L299.00 113.03 L299.50 114.56 L299.62 116.54 L300.24 120.10 L300.50 122.11 L300.86 125.17 L301.48 127.57 L302.00 130.05 L302.10 130.69 L302.72 130.92 L303.00 132.31 L303.34 133.67 L303.96 137.28 L304.50 141.16 L304.58 140.69 L305.20 144.15 L305.82 144.91 L306.00 145.24 L306.44 143.07 L307.06 143.07 L307.50 142.45 L307.68 143.51 L308.30 146.82 L308.50 147.27 L308.92 149.99 L309.50 155.27 L309.54 156.78 L310.16 159.24 L310.78 160.13 L311.00 161.02 L311.40 164.38 L312.00 168.88 L312.02 170.12 L312.64 172.10 L313.26 175.14 L313.50 177.30 L313.88 174.70 L314.50 171.71 L315.00 170.15 L315.12 169.46 L315.74 166.77 L316.36 165.27 L316.50 164.88 L316.98 166.04 L317.50 167.29 L317.60 167.46 L318.22 164.00 L318.50 162.83 L318.84 165.06 L319.46 166.01 L320.00 168.96 L320.08 169.57 L320.70 172.03 L321.00 173.81 L321.32 172.15 L321.94 172.36 L322.50 170.95 L322.56 170.73 L323.18 172.57 L323.80 172.89 L324.00 173.79 L324.42 175.44 L325.04 177.96 L325.50 178.86 L325.66 179.35 L326.28 177.56 L326.90 177.32 L327.00 177.68 L327.52 179.20 L328.14 179.72 L328.50 179.85 L328.76 179.02 L329.38 178.58 L330.00 179.07 L330.62 178.57 L331.24 179.61 L331.50 180.18 L331.86 178.21 L332.48 173.78 L333.00 171.81 L333.10 171.11 L333.72 169.65 L334.34 168.47 L334.50 167.41 L334.96 166.84 L335.58 164.70 L336.00 163.50 L336.20 163.24 L336.82 164.70 L337.44 165.02 L337.50 164.95 L338.06 163.93 L338.68 163.25 L339.00 163.22 L339.30 164.43 L339.92 164.81 L340.50 166.32 L340.54 164.73 L341.16 162.13 L341.75 159.80 L341.78 159.56 L342.40 165.04 L343.00 168.16 L343.02 169.10 L343.64 169.55 L344.26 170.94 L344.50 169.36 L344.88 168.68 L345.50 167.54 L346.00 165.26 L346.12 163.53 L346.74 159.81 L347.36 155.12 L347.50 155.02 L347.98 151.88 L348.60 147.71 L349.00 143.91 L349.22 144.20 L349.84 143.80 L350.46 141.95 L350.50 142.69 L351.08 138.11 L351.50 133.70 L351.70 132.57 L352.32 131.81 L352.94 130.26 L353.00 130.19 L353.56 125.47 L354.18 122.85 L354.50 121.82 L354.80 124.03 L355.42 126.89 L355.50 127.42 L356.04 126.86 L356.66 125.85 L357.00 126.12 L357.28 125.29 L357.90 122.40 L358.50 121.23 L358.52 121.37 L359.14 118.21 L359.76 116.73 L360.00 115.81 L360.38 115.83 L361.00 115.24 L361.50 114.35 L361.62 114.89 L362.24 116.98 L362.86 118.83 L363.00 118.37 L363.48 120.92 L364.10 123.24 L364.50 125.72 L364.72 127.33 L365.34 128.19 L365.96 129.58 L366.00 128.97 L366.58 127.43 L367.20 126.90 L367.50 126.10 L367.82 126.81 L368.44 123.42 L369.06 124.58 L369.50 123.59 L369.68 123.22 L370.30 119.99 L370.50 117.82 L370.92 121.27 L371.54 124.48 L372.00 125.81 L372.16 128.60 L372.78 130.62 L373.40 134.63 L373.50 136.52 L374.02 137.48 L374.64 140.21 L375.00 141.24 L375.26 140.75 L375.88 143.11 L376.50 142.92 L377.12 141.52 L377.74 141.54 L378.00 140.00 L378.36 135.68 L378.98 127.54 L379.00 127.13 L379.60 124.76 L380.22 121.75 L380.50 121.37 L380.84 123.06 L381.46 125.65 L382.00 129.11 L382.08 128.88 L382.70 128.87 L383.32 126.28 L383.50 126.14 L383.94 126.83 L384.56 129.07 L385.00 129.95 L385.18 128.90 L385.80 126.23 L386.00 123.97 L386.42 126.46 L387.00 131.36 L387.04 130.84 L387.66 127.24 L388.00 125.44 L388.28 124.29 L388.90 121.90 L389.50 119.04 L389.52 118.84 L390.14 120.31 L390.76 122.95 L391.00 123.70 L391.38 124.51 L392.00 125.40 L392.50 127.46 L392.62 125.39 L393.24 123.21 L393.86 118.50 L394.00 117.21 L394.48 116.67 L395.10 117.90 L395.50 118.36 L395.72 118.44 L396.34 119.49 L396.96 121.82 L397.00 121.36 L397.58 120.14 L398.20 117.11 L398.50 115.11 L398.82 116.85 L399.44 118.81 L400.00 119.68 L400.06 120.14 L400.68 122.51 L401.30 123.34 L401.50 124.15 L401.92 125.36 L402.54 127.60 L403.00 129.91 L403.16 130.34 L403.78 135.48 L404.40 138.84 L404.50 140.10 L405.02 141.96 L405.64 144.95 L406.00 145.50 L406.26 144.18 L406.88 143.41 L407.50 142.45 L408.12 137.42 L408.50 135.51 L408.74 136.47 L409.36 137.00 L409.50 137.11 L409.98 132.85 L410.50 128.76 L410.60 130.23 L411.22 130.55 L411.50 132.91 L411.84 126.82 L412.46 119.55 L412.50 118.42 L413.08 119.71 L413.70 119.68 L414.00 122.17 L414.32 121.49 L414.94 119.70 L415.50 118.90 L415.56 119.65 L416.18 121.75 L416.80 122.81 L417.00 124.64 L417.42 127.00 L418.04 130.11 L418.50 133.52 L418.66 131.36 L419.28 131.01 L419.90 128.60 L420.00 127.44 L420.52 125.31 L421.14 123.85 L421.50 123.66 L421.76 123.43 L422.38 124.97 L423.00 125.25 L423.62 128.91 L424.00 130.33 L424.24 128.26 L424.86 124.69 L425.00 123.67 L425.48 129.70 L426.10 136.64 L426.25 137.73 L426.72 135.30 L427.34 129.45 L427.50 128.42 L427.96 127.78 L428.58 125.46 L429.00 123.17 L429.20 122.75 L429.82 120.79 L430.44 119.99 L430.50 120.05 L431.06 117.34 L431.68 115.18 L432.00 114.00 L432.30 113.01 L432.92 111.32 L433.50 110.97 L433.54 112.02 L434.16 115.74 L434.78 117.52 L435.00 118.85 L435.40 118.51 L436.02 119.18 L436.50 120.27 L436.64 119.05 L437.26 116.95 L437.88 114.33 L438.00 114.07 L438.50 113.53 L439.00 112.98 L439.12 113.92 L439.74 119.65 L440.00 122.78 L440.36 126.09 L440.98 127.10 L441.50 131.53 L441.60 131.42 L442.22 137.11 L442.50 139.91 L442.84 140.53 L443.46 142.13 L444.00 143.58 L444.08 144.73 L444.70 140.39 L445.32 138.88 L445.50 138.53 L445.94 138.14 L446.56 136.07 L447.00 136.24 L447.18 135.93 L447.80 135.87 L448.42 133.61 L448.50 132.98 L449.04 133.78 L449.66 135.82 L450.00 134.96 L450.28 134.27 L450.90 133.81 L451.50 133.64 L451.52 134.48 L452.14 136.99 L452.76 141.11 L453.00 142.99 L453.38 139.05 L454.00 134.78 L454.50 129.89 L454.62 131.69 L455.24 138.67 L455.50 141.66 L455.86 141.25 L456.48 137.37 L457.00 135.88 L457.10 135.10 L457.72 134.17 L458.34 132.14 L458.50 131.25 L458.96 129.68 L459.58 128.70 L460.00 126.49 L460.20 126.16 L460.82 125.72 L461.44 123.51 L461.50 124.83 L462.06 128.45 L462.68 129.90 L463.00 131.13 L463.30 132.46 L463.92 131.97 L464.50 133.02 L464.54 133.51 L465.16 134.32 L465.78 136.26 L466.00 135.71 L466.40 134.21 L467.02 135.91 L467.50 135.15 L467.64 135.50 L468.26 136.63 L468.88 138.48 L469.00 138.87 L469.50 139.20 L470.12 141.72 L470.50 142.28 L470.74 142.75 L471.36 138.45 L471.50 137.58 L471.98 141.80 L472.50 145.26 L472.60 144.61 L473.22 136.99 L473.50 134.54 L473.84 135.68 L474.46 136.25 L475.00 137.03 L475.08 136.96 L475.70 140.28 L476.32 143.90 L476.50 143.42 L476.94 143.31 L477.56 144.15 L478.00 145.07 L478.18 145.73 L478.80 143.88 L479.42 140.64 L479.50 140.03 L480.04 138.71 L480.66 135.90 L481.00 133.12 L481.28 132.44 L481.90 131.40 L482.50 126.89 L482.52 126.40 L483.14 123.05 L483.76 121.17 L484.00 118.63 L484.38 117.78 L485.00 116.25 L485.50 113.80 L485.62 114.57 L486.24 117.97 L486.86 121.96 L487.00 124.05 L487.48 124.21 L488.10 127.61 L488.50 128.35 L488.72 129.89 L489.34 131.10 L489.96 133.02 L490.00 133.78 L490.58 134.36 L491.20 133.53 L491.50 133.13 L491.82 131.00 L492.44 128.00 L492.50 126.46 L493.06 129.18 L493.68 134.38 L494.00 135.13 L494.30 134.74 L494.92 131.38 L495.50 131.02 L495.54 130.82 L496.16 128.98 L496.78 127.81 L497.00 126.09 L497.40 128.34 L498.02 130.85 L498.50 133.69 L498.64 132.96 L499.26 128.34 L499.50 126.53 L499.88 125.83 L500.50 127.96 L501.00 128.13 L501.12 127.37 L501.74 128.42 L502.36 126.63 L502.50 126.90 L502.98 130.89 L503.60 136.05 L504.00 137.89 L504.22 137.85 L504.84 133.80 L505.46 129.69 L505.50 130.20 L506.08 124.73 L506.70 118.50 L507.00 116.21 L507.32 116.72 L507.94 115.32 L508.00 114.93 L508.56 119.48 L509.18 122.29 L509.50 125.68 L509.80 126.07 L510.42 123.63 L511.00 123.45 L511.04 123.31 L511.66 126.08 L512.00 127.29 L512.28 126.23 L512.90 122.76 L513.00 123.08 L513.52 124.09 L514.14 124.84 L514.50 124.84 L514.76 126.88 L515.38 128.33 L515.50 129.82 L516.00 133.28 L516.62 138.36 L517.00 139.89 L517.24 137.73 L517.86 131.46 L518.00 129.30 L518.48 128.35 L519.10 124.54 L519.50 123.83 L519.72 125.02 L520.34 127.72 L520.96 130.19 L521.00 129.97 L521.58 130.52 L522.20 130.06 L522.50 131.45 L522.82 132.28 L523.44 133.21 L524.00 135.50 L524.06 135.26 L524.68 137.39 L525.30 140.83 L525.50 141.37 L525.92 141.36 L526.54 140.33 L527.00 140.21 L527.16 139.56 L527.78 138.24 L528.40 135.57 L528.50 134.78 L529.02 133.44 L529.64 133.50 L530.00 132.76 L530.26 132.48 L530.88 136.23 L531.00 136.23 L531.50 132.70 L532.00 128.53 L532.12 126.94 L532.74 121.88 L533.00 119.78 L533.36 118.82 L533.98 117.63 L534.50 116.27 L534.60 117.31 L535.22 113.81 L535.84 112.61 L536.00 112.53 L536.46 110.06 L537.00 105.97 L537.08 104.73 L537.70 101.71 L538.00 99.61 L538.32 99.59 L538.94 99.01 L539.50 97.58 L539.56 98.70 L540.18 97.47 L540.80 98.58 L541.00 96.90 L541.42 98.60 L542.04 104.56 L542.50 108.06 L542.66 107.24 L543.28 103.34 L543.90 99.01 L544.00 98.29 L544.52 96.69 L545.00 94.92 L545.14 94.83 L545.76 96.57 L546.38 97.56 L546.50 97.45 L547.00 100.93 L547.50 104.77 L547.62 104.38 L548.24 103.35 L548.50 101.24 L548.86 102.98 L549.48 103.49 L549.50 105.34 L550.10 100.14 L550.50 97.65 L550.72 96.69 L551.34 97.20 L551.96 97.58 L552.00 97.00 L552.58 99.09 L553.20 100.48 L553.50 101.81 L553.82 102.47 L554.44 102.70 L555.06 103.46 L555.50 103.57 L555.68 102.89 L556.30 101.60 L556.92 99.99 L557.00 98.64 L557.54 96.96 L558.16 95.94 L558.50 95.26 L558.78 93.80 L559.40 91.25 L559.50 89.95 L560.02 88.05 L560.64 85.86 L561.00 86.49 L561.26 88.06 L561.88 91.31 L562.00 92.60 L562.50 92.71 L563.12 95.45 L563.50 95.79 L563.74 97.23 L564.36 98.50 L564.98 102.15 L565.00 101.48 L565.60 100.35 L566.22 96.03 L566.50 96.51 L566.84 95.88 L567.46 92.46 L567.50 92.76 L568.08 95.97 L568.70 100.51 L569.00 101.19 L569.32 102.49 L569.94 103.98 L570.00 105.57 L570.56 104.26 L571.18 103.90 L571.50 104.26 L571.80 103.17 L572.42 100.26 L573.00 97.62 L573.04 98.32 L573.66 94.06 L574.00 90.86 L574.28 89.98 L574.90 86.64 L575.00 86.46 L575.52 86.95 L576.14 88.50 L576.50 88.04 L576.76 88.25 L577.38 83.62 L577.50 84.07 L578.00 79.39 L578.50 73.55 L578.62 72.16 L579.24 69.06 L579.50 68.11 L579.86 68.90 L580.48 66.35 L581.00 66.93 L581.10 66.18 L581.72 67.79 L582.34 67.56 L582.50 67.51 L582.96 71.47 L583.50 75.09 L583.58 76.52 L584.20 79.19 L584.50 81.09 L584.82 82.87 L585.44 85.94 L585.50 86.61 L586.06 85.53 L586.68 84.92 L587.00 84.82 L587.30 85.23 L587.92 85.96 L588.50 88.79 L588.54 89.31 L589.16 92.17 L589.50 93.54 L589.78 96.14 L590.40 99.88 L590.50 100.08 L591.02 102.40 L591.50 103.73 L591.64 103.34 L592.26 100.33 L592.88 96.03 L593.00 96.12 L593.50 93.27 L594.00 91.36 L594.12 89.39 L594.74 90.84 L595.36 90.12 L595.50 89.96 L595.98 88.84 L596.60 85.69 L597.00 85.56 L597.22 84.55 L597.84 83.41 L598.46 83.53 L598.50 82.41 L599.08 81.06 L599.50 78.74 L599.70 79.55 L600.32 82.60 L600.50 83.36 L600.94 78.57 L601.50 72.54 L601.56 74.00 L602.18 78.98 L602.50 81.48 L602.80 82.87 L603.42 87.65 L603.50 88.86 L604.04 90.47 L604.50 90.96 L604.66 90.90 L605.28 85.62 L605.90 82.11 L606.00 81.12 L606.52 79.16 L607.00 76.49 L607.14 76.44 L607.76 72.79 L608.00 72.55 L608.38 72.91 L609.00 69.51 L609.62 72.31 L610.24 74.56 L610.50 75.37 L610.86 75.37 L611.48 73.00 L612.00 69.82 L612.10 70.28 L612.72 70.69 L613.34 69.22 L613.50 68.78 L613.96 69.05 L614.58 68.43 L615.00 67.17 L615.20 65.95 L615.82 64.51 L616.44 59.93 L616.50 59.99 L617.06 59.10 L617.68 60.34 L618.00 58.42 L618.30 59.54 L618.92 60.49 L619.50 61.92 L619.54 61.29 L620.16 63.44 L620.50 64.95 L620.78 66.58 L621.40 68.24 L621.50 70.03 L622.02 68.98 L622.64 69.02 L623.00 68.63 L623.26 70.95 L623.88 76.29 L624.00 77.63 L624.50 83.14 L625.00 88.29 L625.12 87.20 L625.74 88.38 L626.36 90.09 L626.50 89.54 L626.98 87.87 L627.50 87.51 L627.60 87.43 L628.22 91.73 L628.50 93.84 L628.84 93.06 L629.46 90.20 L630.00 88.78 L630.08 87.45 L630.70 89.85 L631.00 90.16 L631.32 86.01 L631.94 82.41 L632.00 81.78 L632.56 75.98 L633.00 74.94 L633.18 75.16 L633.80 71.88 L634.00 70.31 L634.42 68.81 L635.00 67.40 L635.04 68.22 L635.66 71.03 L636.00 73.34 L636.28 74.54 L636.90 75.46 L637.00 76.72 L637.52 73.58 L638.00 72.58 L638.14 72.62 L638.76 72.99 L639.00 74.36 L639.38 73.31 L640.00 75.10 L640.62 76.19 L641.00 77.65 L641.24 76.82 L641.86 78.68 L642.48 77.86 L642.50 77.22 L643.10 75.13 L643.50 73.92 L643.72 72.77 L644.34 68.50 L644.50 66.92 L644.96 65.79 L645.50 61.21 L645.58 62.07 L646.20 59.13 L646.50 59.72 L646.82 62.98 L647.44 67.82 L647.50 67.16 L648.06 69.93 L648.68 74.08 L649.00 74.27 L649.30 73.63 L649.92 70.23 L650.00 69.58 L650.54 67.96 L651.00 65.30 L651.16 65.12 L651.78 63.61 L652.40 62.90 L652.50 61.45 L653.02 62.14 L653.64 63.57 L654.00 62.64 L654.26 63.16 L654.88 62.04 L655.50 62.10 L656.12 66.15 L656.50 70.14 L656.74 71.69 L657.36 75.11 L657.50 76.24 L657.98 76.31 L658.60 76.39 L659.00 76.46 L659.22 75.85 L659.84 70.55 L660.00 71.32 L660.46 71.27 L661.08 68.65 L661.50 68.70 L661.70 70.91 L662.32 70.37 L662.50 71.53 L662.94 69.77 L663.50 67.10 L663.56 67.47 L664.18 67.93 L664.50 69.90 L664.80 69.51 L665.42 67.00 L665.50 66.33 L666.04 62.50 L666.50 60.18 L666.66 59.66 L667.28 54.69 L667.50 52.78 L667.90 56.32 L668.50 61.38 L668.52 60.48 L669.14 57.51 L669.50 53.46 L669.76 52.22 L670.00 51.80"/>
<path stroke="#988ED5" d="M51.00 266.28 L51.62 268.42 L52.24 268.19 L52.50 269.66 L52.86 269.74 L53.48 270.66 L53.75 271.78 L54.10 274.86 L54.72 280.92 L55.00 283.95 L55.34 284.88 L55.96 284.69 L56.25 285.16 L56.58 285.31 L57.20 287.59 L57.50 288.63 L57.82 289.10 L58.44 291.45 L58.75 293.29 L59.06 291.72 L59.68 288.05 L60.00 286.16 L60.30 284.80 L60.92 280.72 L61.25 279.98 L61.54 280.75 L62.16 282.35 L62.50 282.26 L62.78 283.34 L63.40 284.69 L63.75 287.36 L64.02 285.42 L64.64 284.73 L65.00 285.31 L65.26 285.02 L65.88 290.84 L66.25 292.59 L66.50 289.78 L67.12 284.12 L67.50 280.15 L67.74 279.63 L68.36 275.89 L68.98 272.80 L69.00 272.95 L69.60 278.06 L70.00 282.49 L70.22 282.83 L70.84 286.61 L71.25 286.98 L71.46 285.89 L72.08 283.51 L72.50 281.91 L72.70 283.58 L73.32 279.79 L73.50 281.17 L73.94 282.16 L74.56 285.50 L75.00 285.06 L75.18 287.54 L75.80 290.31 L76.25 293.71 L76.42 293.53 L77.04 295.38 L77.50 295.30 L77.66 294.85 L78.28 292.36 L78.75 290.52 L78.90 288.77 L79.52 293.38 L80.00 294.02 L80.14 293.76 L80.76 295.87 L81.25 296.75 L81.38 298.79 L82.00 301.31 L82.62 299.03 L83.24 296.96 L83.50 296.19 L83.86 297.63 L84.48 299.72 L85.00 303.08 L85.10 300.91 L85.72 298.18 L86.34 299.06 L86.50 298.71 L86.96 300.16 L87.58 301.31 L88.00 302.46 L88.20 303.90 L88.82 307.96 L89.44 310.59 L89.50 311.15 L90.06 314.48 L90.68 315.55 L91.00 315.97 L91.30 316.63 L91.92 312.96 L92.50 309.84 L92.54 309.11 L93.16 309.11 L93.78 307.28 L94.00 307.20 L94.40 305.59 L95.02 304.60 L95.50 304.06 L95.64 304.67 L96.26 309.39 L96.50 312.69 L96.88 315.87 L97.50 321.49 L98.12 322.61 L98.74 322.17 L99.00 322.46 L99.36 320.67 L99.98 316.81 L100.50 315.19 L100.60 316.38 L101.22 318.12 L101.84 320.42 L102.00 321.18 L102.46 318.79 L103.08 316.19 L103.50 314.89 L103.70 314.24 L104.32 314.01 L104.94 312.70 L105.00 313.85 L105.56 316.12 L106.18 317.86 L106.50 319.36 L106.80 320.99 L107.42 323.84 L108.00 324.79 L108.04 324.56 L108.66 322.95 L109.28 322.26 L109.50 320.99 L109.90 322.61 L110.52 322.74 L111.00 324.01 L111.14 324.82 L111.76 329.29 L112.38 333.07 L112.50 334.81 L113.00 336.90 L113.62 340.13 L114.00 341.32 L114.24 339.96 L114.86 338.67 L115.48 337.01 L115.50 336.21 L116.10 340.94 L116.72 346.14 L117.00 348.98 L117.34 346.86 L117.96 341.70 L118.50 338.85 L118.58 339.01 L119.20 343.47 L119.82 349.52 L120.00 350.23 L120.44 348.03 L121.06 346.52 L121.50 345.14 L121.68 344.25 L122.30 343.58 L122.92 343.10 L123.00 342.00 L123.54 344.53 L124.16 346.88 L124.50 347.64 L124.78 345.63 L125.40 344.72 L126.00 342.26 L126.02 342.95 L126.64 344.52 L127.26 345.80 L127.50 346.04 L127.88 345.20 L128.50 345.18 L129.00 343.50 L129.12 344.90 L129.74 349.04 L130.36 352.62 L130.50 354.42 L130.98 351.00 L131.60 348.84 L132.00 344.44 L132.22 344.16 L132.84 348.49 L133.46 350.31 L133.50 349.91 L134.08 347.55 L134.70 343.67 L135.00 343.57 L135.32 344.09 L135.94 346.73 L136.50 349.00 L136.56 348.74 L137.18 348.44 L137.80 347.18 L138.00 347.38 L138.42 350.03 L139.04 353.37 L139.50 356.60 L139.66 355.50 L140.28 356.92 L140.90 354.40 L141.00 355.30 L141.52 351.86 L142.14 350.45 L142.50 347.54 L142.76 349.30 L143.38 353.15 L144.00 356.07 L144.62 355.00 L145.24 353.80 L145.50 355.34 L145.86 353.31 L146.48 351.32 L147.00 349.99 L147.10 351.06 L147.72 346.39 L148.34 345.71 L148.50 344.89 L148.96 343.65 L149.50 340.75 L149.58 341.44 L150.20 345.92 L150.82 350.04 L151.00 350.45 L151.44 351.97 L152.06 356.22 L152.50 358.72 L152.68 356.89 L153.30 353.74 L153.92 352.18 L154.00 351.32 L154.54 353.40 L155.16 356.93 L155.50 357.22 L155.78 356.47 L156.40 353.01 L157.00 349.98 L157.02 350.44 L157.64 353.32 L158.26 356.49 L158.50 357.57 L158.88 360.12 L159.50 360.62 L160.00 362.78 L160.12 363.83 L160.74 367.81 L161.00 370.22 L161.36 369.10 L161.98 370.00 L162.50 368.52 L162.60 368.32 L163.22 368.38 L163.84 368.22 L164.00 367.75 L164.46 366.98 L165.08 364.66 L165.50 363.48 L165.70 363.30 L166.32 360.54 L166.94 357.08 L167.00 357.77 L167.56 354.84 L168.18 350.93 L168.50 350.12 L168.80 349.82 L169.42 351.69 L170.00 353.86 L170.04 352.89 L170.66 357.63 L171.28 360.27 L171.50 362.71 L171.90 360.66 L172.52 359.23 L173.00 357.08 L173.14 356.56 L173.76 354.36 L174.38 350.92 L174.50 349.49 L175.00 351.06 L175.62 351.56 L176.00 351.14 L176.24 350.84 L176.86 345.49 L177.48 342.56 L177.50 342.81 L178.10 339.92 L178.72 336.28 L179.00 333.44 L179.34 331.94 L179.96 332.42 L180.50 330.85 L180.58 330.82 L181.20 327.44 L181.82 326.49 L182.00 325.22 L182.44 326.49 L183.06 327.66 L183.50 328.76 L183.68 329.14 L184.30 331.69 L184.92 333.66 L185.00 333.88 L185.54 333.90 L186.16 336.05 L186.50 335.08 L186.78 336.21 L187.40 336.68 L188.00 336.00 L188.02 335.10 L188.64 338.20 L189.26 338.08 L189.50 338.77 L189.88 339.84 L190.50 342.17 L191.00 343.42 L191.12 343.98 L191.74 345.28 L192.36 347.14 L192.50 346.85 L192.98 348.47 L193.60 348.65 L194.00 348.27 L194.22 347.87 L194.84 347.37 L195.46 346.76 L195.50 346.25 L196.08 349.15 L196.70 350.27 L197.00 350.97 L197.32 350.51 L197.94 350.99 L198.50 349.83 L198.56 350.74 L199.18 352.41 L199.80 353.66 L200.00 354.03 L200.42 352.93 L201.04 352.01 L201.50 351.08 L201.66 351.62 L202.28 354.05 L202.90 357.86 L203.00 358.45 L203.52 359.48 L204.14 362.65 L204.50 363.88 L204.76 363.08 L205.38 363.24 L206.00 361.51 L206.62 359.40 L207.24 355.66 L207.50 354.58 L207.86 355.09 L208.48 354.40 L209.00 353.95 L209.10 353.79 L209.72 352.83 L210.34 350.20 L210.50 350.19 L210.96 346.04 L211.58 340.55 L212.20 337.36 L212.50 335.92 L212.82 335.55 L213.44 339.82 L214.00 341.06 L214.06 340.92 L214.68 340.71 L215.30 340.31 L215.50 339.73 L215.92 341.35 L216.54 343.43 L217.00 344.73 L217.16 343.36 L217.78 342.60 L218.40 340.47 L218.50 339.43 L219.02 337.38 L219.64 337.92 L220.00 336.98 L220.26 339.28 L220.88 343.02 L221.50 345.93 L222.12 347.46 L222.50 350.05 L222.74 348.64 L223.36 343.00 L223.50 342.43 L223.98 339.53 L224.60 339.25 L225.00 338.79 L225.22 338.31 L225.84 337.76 L226.46 334.30 L226.50 334.37 L227.08 333.38 L227.70 330.59 L228.00 330.08 L228.32 330.40 L228.94 330.11 L229.50 329.90 L229.56 329.80 L230.18 321.02 L230.50 318.73 L230.80 319.30 L231.42 315.86 L232.00 314.77 L232.04 314.51 L232.66 314.98 L233.28 317.10 L233.50 316.54 L233.90 314.75 L234.52 313.48 L235.00 310.88 L235.14 311.27 L235.76 314.73 L236.00 315.01 L236.38 316.47 L237.00 321.15 L237.50 323.84 L237.62 324.45 L238.24 323.19 L238.86 321.29 L239.00 321.11 L239.48 322.71 L240.00 324.44 L240.10 325.19 L240.72 323.21 L241.34 320.98 L241.50 319.61 L241.96 318.33 L242.58 317.79 L243.00 316.15 L243.20 316.08 L243.82 313.72 L244.44 313.55 L244.50 314.15 L245.06 310.65 L245.50 309.08 L245.68 310.38 L246.30 315.07 L246.50 315.41 L246.92 317.37 L247.50 321.12 L247.54 321.52 L248.16 326.37 L248.50 330.01 L248.78 331.89 L249.40 335.72 L249.50 337.34 L250.02 338.62 L250.64 339.75 L251.00 340.94 L251.26 340.58 L251.88 338.18 L252.00 336.17 L252.50 330.95 L253.00 326.39 L253.12 325.10 L253.74 319.60 L254.00 318.39 L254.36 317.45 L254.98 317.98 L255.50 318.56 L255.60 318.38 L256.22 320.38 L256.50 321.41 L256.84 321.13 L257.46 318.51 L258.00 316.26 L258.08 315.33 L258.70 315.86 L259.32 314.93 L259.50 315.47 L259.94 314.31 L260.50 311.31 L260.56 310.88 L261.18 308.17 L261.50 307.49 L261.80 306.48 L262.42 303.48 L263.00 301.86 L263.04 302.74 L263.66 302.82 L264.00 304.88 L264.28 303.02 L264.90 302.33 L265.50 298.92 L265.52 299.08 L266.14 297.96 L266.76 296.85 L267.00 296.33 L267.38 296.41 L268.00 299.76 L268.50 301.42 L268.62 300.11 L269.24 300.96 L269.86 300.13 L270.00 299.07 L270.48 298.53 L271.10 297.82 L271.50 297.35 L271.72 296.97 L272.34 293.53 L272.96 291.99 L273.00 292.06 L273.58 293.67 L274.20 294.43 L274.50 294.93 L274.82 296.66 L275.44 297.05 L276.00 300.76 L276.06 300.07 L276.68 297.24 L277.00 296.88 L277.30 297.37 L277.92 300.63 L278.00 302.41 L278.54 299.53 L279.00 298.21 L279.16 298.10 L279.78 300.60 L280.00 302.23 L280.40 306.20 L281.00 308.76 L281.02 308.45 L281.64 312.06 L282.00 314.69 L282.26 317.16 L282.88 323.00 L283.00 324.07 L283.50 323.72 L284.12 322.07 L284.50 321.07 L284.74 321.67 L285.36 323.29 L285.50 325.21 L285.98 324.35 L286.50 322.41 L286.60 323.12 L287.22 324.20 L287.84 328.04 L288.00 328.08 L288.46 327.22 L289.00 326.36 L289.08 324.88 L289.70 327.61 L290.32 328.92 L290.50 330.51 L290.94 328.77 L291.50 327.36 L291.56 328.47 L292.18 331.01 L292.50 334.15 L292.80 333.91 L293.42 335.70 L294.00 336.74 L294.04 337.47 L294.66 333.83 L295.00 334.69 L295.28 335.47 L295.90 339.48 L296.00 339.68 L296.52 338.86 L297.14 337.28 L297.50 336.42 L297.76 338.10 L298.38 342.19 L298.50 342.78 L299.00 344.98 L299.50 347.67 L299.62 346.69 L300.24 345.89 L300.50 344.39 L300.86 345.42 L301.48 345.02 L301.50 344.72 L302.10 348.93 L302.50 351.04 L302.72 350.30 L303.34 349.56 L303.96 349.42 L304.00 350.25 L304.58 353.22 L305.00 356.14 L305.20 357.23 L305.82 358.31 L306.44 359.93 L306.50 359.85 L307.06 360.67 L307.68 362.47 L308.00 363.04 L308.30 364.76 L308.92 366.79 L309.00 367.60 L309.54 366.48 L310.00 365.02 L310.16 365.08 L310.78 364.15 L311.40 362.34 L311.50 362.02 L312.02 362.36 L312.64 364.51 L313.00 364.97 L313.26 363.81 L313.88 361.12 L314.00 361.41 L314.50 362.79 L315.12 360.99 L315.50 360.52 L315.74 361.59 L316.36 362.88 L316.50 363.78 L316.98 364.49 L317.50 366.07 L317.60 366.79 L318.22 369.11 L318.50 369.97 L318.84 371.57 L319.46 376.18 L319.50 375.95 L320.08 378.24 L320.50 378.65 L320.70 378.40 L321.32 377.87 L321.50 377.16 L321.94 380.71 L322.50 387.43 L322.56 388.03 L323.18 389.80 L323.50 391.33 L323.80 390.22 L324.42 386.68 L324.50 386.37 L325.04 385.86 L325.66 385.38 L326.00 385.07 L326.28 384.21 L326.90 379.71 L327.00 378.90 L327.52 375.23 L328.00 372.81 L328.14 371.67 L328.76 369.22 L329.00 366.91 L329.38 366.09 L330.00 363.27 L330.50 361.12 L330.62 361.40 L331.24 356.91 L331.50 354.96 L331.86 354.33 L332.48 355.50 L333.00 353.96 L333.10 354.46 L333.72 355.02 L334.00 356.61 L334.34 354.94 L334.96 351.26 L335.00 351.22 L335.58 352.29 L336.00 355.18 L336.20 353.24 L336.82 351.49 L337.00 349.88 L337.44 349.93 L338.06 351.14 L338.50 351.31 L338.68 349.43 L339.30 346.60 L339.50 345.67 L339.92 347.21 L340.50 349.62 L340.54 349.68 L341.16 346.85 L341.50 346.09 L341.78 345.23 L342.40 342.84 L342.50 342.44 L343.02 336.80 L343.50 333.85 L343.64 332.21 L344.26 325.87 L344.50 323.79 L344.88 321.58 L345.50 314.14 L346.12 318.34 L346.50 322.71 L346.74 322.85 L347.36 326.63 L347.50 325.98 L347.98 328.67 L348.50 332.23 L348.60 333.31 L349.22 337.17 L349.50 338.88 L349.84 339.51 L350.46 340.84 L350.50 341.19 L351.08 342.86 L351.50 342.70 L351.70 343.26 L352.32 345.80 L352.50 346.48 L352.94 348.72 L353.50 349.96 L353.56 349.65 L354.18 346.83 L354.50 345.73 L354.80 343.67 L355.42 341.28 L355.50 339.57 L356.04 337.62 L356.50 334.11 L356.66 334.15 L357.28 336.01 L357.50 336.96 L357.90 338.32 L358.50 340.10 L358.52 340.07 L359.14 336.82 L359.50 336.22 L359.76 334.67 L360.38 332.22 L360.50 331.81 L361.00 330.05 L361.50 327.66 L361.62 328.32 L362.24 332.50 L362.50 332.20 L362.86 334.08 L363.48 338.73 L363.50 338.18 L364.10 342.71 L364.50 346.56 L364.72 346.76 L365.34 349.51 L365.50 350.19 L365.96 346.32 L366.50 343.83 L366.58 342.81 L367.20 338.62 L367.50 337.42 L367.82 338.26 L368.44 339.57 L368.50 339.82 L369.06 335.76 L369.50 331.57 L369.68 330.74 L370.30 327.18 L370.92 323.42 L371.00 323.52 L371.54 317.99 L372.00 314.56 L372.16 313.61 L372.78 307.72 L373.00 304.99 L373.40 303.73 L374.00 302.55 L374.02 302.73 L374.64 307.71 L375.00 310.41 L375.26 310.70 L375.88 315.41 L376.00 313.92 L376.50 312.18 L377.12 311.02 L377.50 310.97 L377.74 311.49 L378.36 314.12 L378.98 313.23 L379.00 314.06 L379.60 321.75 L380.00 327.54 L380.22 327.89 L380.84 333.27 L381.00 332.49 L381.46 330.16 L382.08 329.58 L382.50 326.30 L382.70 327.87 L383.32 331.62 L383.94 335.27 L384.00 335.85 L384.56 333.33 L385.00 331.70 L385.18 331.75 L385.80 332.06 L386.42 333.64 L386.50 332.74 L387.04 329.90 L387.50 325.50 L387.66 325.19 L388.28 327.27 L388.90 328.19 L389.00 327.90 L389.52 326.59 L390.00 325.27 L390.14 326.16 L390.76 325.43 L391.38 325.02 L391.50 327.57 L392.00 324.57 L392.50 322.38 L392.62 322.50 L393.24 320.35 L393.86 319.82 L394.00 318.40 L394.48 317.57 L395.10 315.50 L395.50 315.92 L395.72 316.59 L396.34 321.09 L396.50 321.63 L396.96 323.87 L397.50 328.69 L397.58 329.91 L398.20 334.56 L398.50 336.96 L398.82 336.30 L399.44 333.87 L399.50 332.84 L400.06 331.93 L400.50 331.43 L400.68 332.97 L401.30 338.35 L401.50 339.69 L401.92 342.06 L402.50 341.94 L402.54 342.41 L403.16 345.61 L403.50 347.52 L403.78 347.23 L404.40 345.72 L405.00 345.60 L405.02 346.39 L405.64 347.49 L406.26 349.36 L406.50 349.63 L406.88 350.19 L407.50 351.75 L408.12 355.43 L408.50 358.86 L408.74 361.08 L409.36 364.76 L409.50 365.21 L409.98 363.31 L410.50 362.93 L410.60 361.46 L411.22 359.81 L411.50 358.90 L411.84 360.09 L412.46 361.12 L412.50 361.97 L413.08 363.20 L413.70 363.56 L414.00 364.43 L414.32 364.40 L414.94 364.14 L415.50 363.38 L415.56 362.43 L416.18 362.70 L416.80 360.06 L417.00 359.67 L417.42 355.99 L418.00 353.90 L418.04 352.72 L418.66 350.55 L419.00 350.17 L419.28 350.77 L419.90 352.19 L420.00 351.65 L420.52 348.62 L421.14 348.27 L421.50 347.92 L421.76 348.10 L422.38 350.53 L423.00 351.35 L423.62 354.71 L424.00 358.16 L424.24 358.50 L424.86 359.81 L425.00 360.81 L425.48 356.70 L426.00 355.29 L426.10 355.63 L426.72 352.61 L427.34 353.08 L427.50 352.95 L427.96 355.66 L428.50 360.34 L428.58 360.19 L429.20 362.82 L429.50 363.59 L429.82 363.06 L430.44 366.93 L430.50 366.50 L431.06 367.49 L431.50 369.74 L431.68 371.03 L432.30 368.95 L432.92 370.16 L433.00 370.36 L433.54 368.59 L434.00 366.17 L434.16 364.27 L434.78 362.25 L435.00 359.91 L435.40 359.01 L436.00 356.89 L436.02 355.92 L436.64 361.88 L437.00 365.75 L437.26 366.27 L437.88 368.72 L438.00 368.75 L438.50 368.21 L439.00 363.93 L439.12 363.30 L439.74 359.58 L440.00 358.11 L440.36 355.78 L440.98 354.87 L441.00 355.21 L441.60 356.86 L442.00 359.51 L442.22 360.37 L442.84 362.71 L443.00 364.45 L443.46 365.98 L444.00 367.59 L444.08 366.55 L444.70 364.06 L445.00 362.42 L445.32 364.20 L445.94 367.83 L446.00 368.70 L446.56 371.18 L447.00 372.48 L447.18 373.28 L447.80 375.38 L448.00 373.57 L448.42 374.43 L449.00 377.56 L449.04 377.43 L449.66 373.40 L450.00 371.08 L450.28 371.59 L450.90 372.01 L451.50 370.56 L451.52 370.28 L452.14 369.42 L452.50 367.42 L452.76 369.53 L453.38 375.42 L453.50 375.61 L454.00 380.70 L454.50 382.47 L454.62 383.01 L455.24 383.65 L455.50 383.87 L455.86 384.89 L456.48 390.63 L456.50 389.66 L457.10 391.81 L457.50 393.88 L457.72 391.73 L458.34 392.05 L458.50 391.22 L458.96 392.16 L459.50 396.04 L459.58 394.53 L460.20 396.65 L460.50 396.98 L460.82 395.53 L461.44 391.64 L461.50 392.38 L462.06 393.58 L462.50 394.14 L462.68 391.72 L463.30 386.09 L463.50 383.43 L463.92 385.84 L464.50 388.09 L464.54 387.85 L465.16 390.94 L465.50 394.14 L465.78 395.04 L466.40 395.04 L466.50 396.02 L467.02 397.53 L467.50 400.11 L467.64 399.60 L468.26 395.32 L468.50 393.84 L468.88 393.04 L469.50 389.96 L470.12 389.41 L470.74 388.10 L471.00 388.56 L471.36 386.59 L471.98 384.43 L472.00 382.92 L472.60 378.91 L473.00 375.94 L473.22 374.63 L473.84 369.64 L474.00 368.46 L474.46 368.22 L475.00 368.23 L475.08 369.31 L475.70 372.53 L476.00 375.30 L476.32 372.81 L476.94 370.27 L477.00 369.26 L477.56 372.20 L478.00 373.65 L478.18 374.51 L478.80 381.46 L479.00 382.09 L479.42 377.02 L480.00 371.25 L480.04 370.04 L480.66 363.93 L481.00 359.55 L481.28 359.64 L481.90 358.33 L482.00 359.09 L482.52 359.68 L483.00 361.97 L483.14 359.61 L483.76 356.73 L484.00 354.44 L484.38 350.44 L485.00 344.09 L485.62 335.93 L486.00 330.89 L486.24 331.00 L486.86 329.77 L487.00 328.87 L487.48 331.49 L488.00 332.60 L488.10 335.10 L488.72 339.44 L489.00 340.66 L489.34 345.11 L489.96 348.12 L490.00 348.89 L490.58 346.35 L491.00 346.82 L491.20 346.57 L491.82 351.08 L492.00 351.19 L492.44 351.16 L493.00 352.40 L493.06 353.51 L493.68 354.51 L494.00 356.41 L494.30 354.90 L494.92 353.48 L495.00 354.36 L495.54 352.14 L496.00 350.55 L496.16 350.60 L496.78 347.48 L497.00 346.90 L497.40 348.54 L498.00 349.62 L498.02 349.52 L498.64 351.59 L499.00 351.89 L499.26 351.99 L499.88 350.94 L500.00 351.90 L500.50 354.76 L501.00 355.78 L501.12 356.51 L501.74 353.45 L502.00 352.94 L502.36 354.30 L502.98 357.91 L503.00 357.31 L503.60 352.30 L504.00 351.34 L504.22 352.63 L504.84 357.36 L505.00 358.17 L505.46 358.65 L506.00 361.31 L506.08 361.19 L506.70 359.97 L507.00 359.53 L507.32 360.84 L507.94 362.40 L508.00 362.96 L508.56 360.33 L509.00 356.70 L509.18 356.36 L509.80 353.69 L510.00 353.45 L510.42 351.88 L511.00 350.05 L511.04 351.21 L511.66 352.33 L512.00 354.01 L512.28 355.88 L512.90 359.42 L513.00 359.13 L513.52 363.34 L514.00 366.27 L514.14 366.33 L514.76 370.71 L515.00 372.41 L515.38 369.67 L516.00 367.86 L516.62 373.75 L517.00 375.75 L517.24 375.95 L517.86 377.96 L518.00 378.27 L518.48 379.81 L519.00 380.21 L519.10 382.11 L519.72 383.87 L520.00 384.64 L520.34 386.99 L520.96 391.44 L521.00 391.35 L521.58 387.00 L522.00 386.36 L522.20 386.34 L522.82 388.78 L523.00 389.91 L523.44 387.18 L524.00 384.31 L524.06 384.30 L524.68 382.69 L525.00 383.07 L525.30 383.68 L525.92 384.98 L526.00 384.31 L526.54 382.30 L527.00 381.32 L527.16 380.00 L527.78 383.33 L528.00 382.64 L528.40 381.67 L529.00 379.59 L529.02 379.00 L529.64 381.35 L530.00 382.20 L530.26 382.49 L530.88 379.42 L531.00 379.26 L531.50 377.20 L532.00 374.95 L532.12 375.06 L532.74 371.31 L533.00 370.54 L533.36 372.11 L533.98 374.48 L534.00 373.83 L534.60 368.23 L535.00 366.61 L535.22 364.99 L535.84 360.79 L536.00 359.77 L536.46 362.47 L537.00 364.59 L537.08 365.12 L537.70 365.63 L538.00 366.68 L538.32 365.27 L538.94 364.19 L539.00 363.81 L539.56 365.47 L540.00 365.31 L540.18 364.08 L540.80 359.95 L541.00 358.56 L541.42 357.24 L542.00 355.91 L542.04 356.84 L542.66 358.45 L543.00 357.73 L543.28 360.15 L543.90 362.37 L544.00 363.52 L544.52 360.28 L545.00 357.53 L545.14 357.64 L545.76 355.20 L546.00 355.88 L546.38 356.97 L547.00 357.93 L547.62 356.39 L548.00 352.92 L548.24 353.32 L548.86 356.64 L549.00 355.50 L549.48 357.34 L550.00 362.01 L550.10 360.31 L550.72 357.70 L551.00 356.20 L551.34 357.07 L551.96 360.23 L552.00 360.13 L552.58 357.98 L553.00 355.21 L553.20 354.72 L553.82 351.28 L554.00 350.71 L554.44 348.71 L555.00 345.94 L555.06 346.37 L555.68 343.42 L556.00 343.49 L556.30 343.09 L556.92 341.75 L557.00 341.27 L557.54 341.04 L558.00 342.31 L558.16 343.50 L558.78 341.20 L559.00 339.77 L559.40 342.83 L560.00 343.71 L560.02 343.69 L560.64 341.57 L561.00 341.67 L561.26 340.02 L561.88 336.79 L562.00 335.99 L562.50 338.73 L563.00 343.05 L563.12 342.79 L563.74 342.79 L564.00 340.99 L564.36 342.34 L564.98 345.61 L565.00 345.23 L565.60 347.52 L566.00 350.41 L566.22 350.88 L566.84 352.72 L567.00 352.60 L567.46 351.80 L568.00 349.38 L568.08 349.69 L568.70 353.23 L569.00 353.86 L569.32 355.04 L569.94 357.60 L570.00 357.06 L570.56 351.96 L571.00 346.88 L571.18 348.48 L571.80 354.07 L572.00 354.75 L572.42 353.22 L573.00 351.31 L573.04 350.85 L573.66 346.90 L574.00 343.88 L574.28 341.31 L574.90 337.08 L575.00 335.40 L575.52 332.14 L576.00 330.09 L576.14 330.26 L576.76 328.95 L577.00 328.45 L577.38 330.76 L578.00 335.06 L578.62 337.80 L579.00 339.24 L579.24 337.44 L579.86 334.29 L580.00 333.15 L580.48 336.20 L581.00 337.25 L581.10 336.60 L581.72 333.62 L582.00 332.27 L582.34 336.74 L582.96 341.57 L583.00 342.92 L583.58 346.65 L584.00 349.11 L584.20 346.15 L584.82 339.33 L585.00 335.86 L585.44 334.74 L586.00 330.49 L586.06 329.94 L586.68 333.28 L587.00 334.73 L587.30 336.31 L587.92 337.94 L588.00 338.39 L588.54 336.20 L589.00 334.43 L589.16 335.12 L589.78 337.32 L590.00 337.85 L590.40 340.28 L591.00 344.21 L591.02 342.09 L591.64 346.10 L592.00 347.76 L592.26 345.80 L592.88 344.71 L593.00 344.56 L593.50 346.79 L594.00 351.09 L594.12 352.11 L594.74 353.80 L595.00 355.43 L595.36 357.73 L595.98 357.89 L596.00 357.68 L596.60 358.27 L597.22 358.21 L597.50 358.35 L597.84 357.19 L598.46 354.82 L598.50 354.90 L599.08 351.29 L599.50 347.80 L599.70 348.54 L600.32 350.32 L600.50 351.37 L600.94 349.06 L601.50 346.31 L601.56 345.32 L602.18 341.21 L602.50 342.25 L602.80 340.08 L603.42 337.05 L603.50 336.99 L604.04 336.15 L604.50 335.41 L604.66 336.08 L605.28 333.25 L605.50 332.56 L605.90 333.88 L606.50 337.47 L606.52 337.76 L607.14 335.52 L607.50 334.59 L607.76 333.65 L608.38 334.10 L608.50 333.46 L609.00 331.57 L609.50 329.78 L609.62 329.67 L610.24 327.98 L610.50 326.33 L610.86 324.29 L611.48 322.67 L611.50 322.79 L612.10 323.75 L612.50 323.89 L612.72 323.90 L613.34 326.93 L613.50 327.81 L613.96 327.21 L614.50 327.06 L614.58 327.27 L615.20 328.85 L615.50 330.16 L615.82 328.30 L616.44 326.24 L616.50 326.28 L617.06 328.80 L617.50 332.26 L617.68 333.55 L618.30 340.77 L618.50 343.71 L618.92 347.12 L619.50 352.09 L619.54 351.95 L620.16 346.59 L620.50 345.52 L620.78 345.59 L621.40 343.02 L621.50 343.56 L622.02 345.36 L622.50 347.55 L622.64 347.22 L623.26 343.70 L623.50 341.79 L623.88 346.58 L624.50 348.24 L625.12 345.94 L625.50 343.54 L625.74 342.92 L626.36 341.17 L626.50 339.87 L626.98 343.79 L627.50 346.27 L627.60 347.17 L628.22 345.02 L628.50 344.91 L628.84 344.83 L629.46 349.58 L629.50 348.87 L630.08 345.58 L630.50 344.05 L630.70 344.71 L631.32 349.03 L631.50 349.76 L631.94 348.47 L632.50 346.11 L632.56 346.75 L633.18 350.64 L633.50 350.70 L633.80 349.85 L634.42 348.47 L634.50 347.99 L635.04 344.17 L635.50 342.54 L635.66 342.27 L636.28 345.23 L636.50 346.16 L636.90 344.56 L637.50 342.70 L637.52 342.97 L638.14 339.46 L638.50 337.88 L638.76 337.42 L639.38 336.40 L639.50 335.37 L640.00 337.53 L640.50 339.65 L640.62 338.19 L641.24 333.10 L641.50 329.95 L641.86 328.28 L642.48 325.20 L642.50 325.93 L643.10 328.91 L643.50 331.57 L643.72 328.75 L644.34 322.46 L644.50 319.73 L644.96 316.53 L645.50 314.81 L645.58 313.77 L646.20 310.14 L646.50 308.24 L646.82 309.92 L647.44 312.42 L647.50 312.17 L648.06 315.51 L648.50 318.76 L648.68 320.32 L649.30 324.11 L649.50 325.10 L649.92 327.09 L650.50 331.25 L650.54 331.99 L651.16 331.80 L651.50 332.84 L651.78 334.89 L652.40 338.15 L652.50 337.61 L653.02 334.25 L653.50 330.98 L653.64 331.86 L654.26 334.50 L654.50 336.29 L654.88 338.17 L655.50 340.13 L656.12 338.58 L656.50 335.97 L656.74 335.79 L657.36 338.70 L657.50 338.29 L657.98 335.88 L658.50 335.04 L658.60 334.38 L659.22 335.89 L659.50 336.34 L659.84 334.11 L660.46 327.66 L660.50 327.65 L661.08 329.56 L661.50 329.91 L661.70 331.87 L662.32 332.90 L662.50 334.32 L662.94 333.92 L663.50 337.81 L663.56 338.87 L664.18 342.89 L664.50 344.92 L664.80 345.47 L665.42 349.80 L665.50 351.10 L666.04 350.28 L666.50 347.25 L666.66 346.86 L667.28 348.66 L667.50 348.90 L667.90 346.60 L668.50 342.24 L668.52 342.21 L669.14 343.51 L669.50 343.19 L669.76 341.86 L670.00 341.93"/>
<path stroke="#777777" d="M51.00 259.39 L51.62 261.25 L52.24 262.15 L52.50 263.22 L52.86 263.95 L53.48 263.90 L53.75 264.19 L54.10 263.83 L54.72 265.74 L55.00 266.05 L55.34 267.57 L55.96 271.40 L56.25 273.18 L56.58 274.86 L57.20 277.64 L57.25 278.13 L57.82 272.78 L58.12 268.93 L58.44 270.47 L59.06 271.73 L59.38 272.98 L59.68 275.40 L60.30 277.14 L60.62 278.20 L60.92 280.90 L61.54 284.48 L61.88 286.55 L62.16 287.08 L62.78 289.16 L63.12 290.61 L63.40 290.60 L64.02 291.57 L64.38 292.39 L64.64 291.97 L65.26 293.53 L65.62 294.93 L65.88 295.25 L66.50 292.76 L66.88 292.90 L67.12 290.13 L67.74 286.58 L68.12 284.98 L68.36 283.68 L68.98 282.01 L69.38 281.38 L69.60 281.54 L70.22 280.48 L70.62 279.92 L70.84 280.94 L71.46 280.28 L72.08 279.84 L72.50 280.34 L72.70 279.27 L73.32 279.71 L73.75 279.56 L73.94 279.85 L74.56 281.00 L75.00 282.60 L75.18 281.22 L75.80 278.08 L76.42 274.68 L76.50 275.37 L77.04 275.24 L77.66 277.15 L78.12 276.99 L78.28 276.85 L78.90 278.11 L79.38 278.20 L79.52 278.78 L80.14 280.22 L80.62 283.14 L80.76 283.33 L81.38 281.21 L81.88 279.66 L82.00 280.12 L82.62 277.80 L83.12 276.80 L83.24 274.71 L83.86 273.15 L84.38 270.54 L84.48 271.59 L85.10 269.63 L85.72 269.30 L86.25 266.78 L86.34 265.96 L86.96 271.68 L87.50 273.37 L87.58 273.23 L88.20 276.83 L88.82 280.24 L89.00 280.48 L89.44 279.65 L90.06 276.66 L90.25 277.98 L90.68 276.16 L91.30 274.43 L91.50 273.91 L91.92 272.90 L92.54 271.48 L93.12 269.74 L93.16 269.74 L93.78 267.36 L94.38 264.67 L94.40 264.22 L95.02 261.86 L95.62 259.47 L95.64 259.79 L96.26 259.77 L96.88 259.68 L97.25 259.86 L97.50 261.66 L98.12 263.26 L98.50 264.39 L98.74 267.41 L99.36 267.14 L99.75 267.74 L99.98 267.51 L100.60 266.44 L101.22 267.69 L101.25 266.86 L101.84 264.94 L102.46 263.55 L103.08 261.47 L103.12 260.69 L103.70 263.80 L104.32 268.64 L104.38 267.66 L104.94 267.16 L105.56 268.81 L106.18 268.81 L106.25 268.76 L106.80 270.60 L107.42 271.84 L107.75 273.06 L108.04 273.42 L108.66 275.12 L109.28 277.42 L109.38 276.72 L109.90 279.16 L110.52 280.28 L110.62 280.95 L111.14 279.33 L111.76 279.40 L112.38 277.16 L112.50 278.00 L113.00 276.80 L113.62 275.49 L114.24 274.87 L114.38 273.63 L114.86 272.43 L115.48 273.15 L115.62 274.10 L116.10 273.26 L116.72 270.96 L117.34 271.23 L117.50 270.30 L117.96 270.63 L118.58 271.18 L119.20 272.70 L119.38 273.75 L119.82 272.06 L120.44 269.86 L121.06 269.83 L121.25 267.37 L121.68 266.39 L122.30 264.86 L122.92 263.88 L123.12 263.03 L123.54 265.60 L124.16 266.53 L124.38 267.66 L124.78 269.47 L125.40 271.52 L125.62 272.85 L126.02 277.45 L126.64 282.66 L126.88 286.88 L127.26 284.64 L127.88 280.93 L128.12 279.36 L128.50 278.49 L129.12 276.15 L129.38 275.80 L129.74 276.12 L130.36 280.71 L130.62 281.00 L130.98 280.70 L131.60 278.49 L131.88 278.00 L132.22 279.11 L132.84 283.42 L133.12 283.45 L133.46 283.30 L134.08 285.00 L134.70 285.74 L134.75 285.63 L135.32 287.09 L135.94 289.63 L136.25 291.50 L136.56 290.09 L137.18 290.35 L137.80 289.54 L138.00 288.79 L138.42 289.65 L139.04 294.42 L139.50 295.04 L139.66 295.67 L140.28 297.34 L140.90 299.01 L141.00 299.93 L141.52 304.04 L142.14 307.96 L142.50 311.28 L142.76 313.14 L143.38 315.22 L144.00 317.47 L144.62 319.06 L145.24 319.80 L145.50 319.75 L145.86 319.19 L146.48 318.89 L147.00 320.72 L147.10 320.51 L147.72 320.00 L148.34 320.39 L148.50 319.87 L148.96 315.74 L149.58 312.26 L150.00 307.06 L150.20 307.09 L150.82 304.11 L151.44 301.54 L151.50 300.07 L152.06 298.96 L152.68 296.41 L153.00 296.26 L153.30 294.29 L153.92 294.32 L154.50 293.74 L154.54 293.63 L155.16 292.65 L155.78 293.07 L156.00 291.56 L156.40 293.23 L157.02 294.61 L157.50 296.26 L157.64 296.64 L158.26 299.51 L158.88 298.96 L159.00 300.37 L159.50 303.06 L160.12 304.58 L160.50 306.08 L160.74 306.39 L161.36 309.23 L161.98 313.84 L162.00 311.90 L162.60 313.32 L163.22 313.03 L163.50 314.28 L163.84 315.10 L164.46 316.01 L165.00 318.61 L165.08 319.15 L165.70 321.17 L166.32 322.49 L166.50 323.67 L166.94 321.23 L167.56 318.79 L168.00 316.33 L168.18 315.66 L168.80 312.51 L169.42 310.88 L169.50 309.84 L170.04 306.27 L170.66 302.93 L171.00 301.16 L171.28 299.87 L171.90 296.16 L172.50 295.38 L172.52 295.42 L173.14 295.39 L173.76 293.68 L174.00 293.96 L174.38 291.04 L175.00 286.26 L175.62 283.88 L176.24 278.60 L176.50 277.66 L176.86 278.09 L177.48 282.79 L178.00 284.95 L178.10 283.88 L178.72 281.59 L179.34 277.94 L179.50 278.45 L179.96 279.25 L180.58 277.81 L181.00 280.30 L181.20 281.85 L181.82 284.26 L182.44 287.37 L182.50 288.36 L183.06 285.06 L183.68 282.33 L184.00 281.86 L184.30 281.96 L184.92 286.38 L185.50 289.10 L185.54 288.26 L186.16 291.31 L186.78 294.55 L187.00 294.82 L187.40 295.20 L188.02 294.80 L188.50 292.49 L188.64 291.58 L189.26 291.02 L189.88 289.29 L190.00 288.54 L190.50 289.28 L191.12 290.21 L191.74 291.28 L192.00 291.57 L192.36 292.41 L192.98 294.43 L193.50 297.05 L193.60 299.67 L194.22 303.51 L194.50 306.14 L194.84 305.99 L195.46 301.43 L196.00 298.13 L196.08 297.33 L196.70 296.58 L197.32 296.31 L197.94 296.74 L198.00 296.37 L198.56 296.88 L199.18 298.57 L199.80 298.32 L200.00 297.20 L200.42 297.46 L201.04 297.05 L201.50 296.04 L201.66 299.47 L202.28 304.69 L202.50 306.67 L202.90 308.21 L203.52 311.40 L204.00 315.21 L204.14 315.56 L204.76 318.39 L205.38 321.84 L205.50 322.56 L206.00 323.85 L206.62 325.16 L207.00 326.38 L207.24 326.88 L207.86 322.06 L208.48 317.26 L208.50 318.07 L209.10 315.66 L209.72 313.37 L210.00 313.36 L210.34 311.75 L210.96 312.96 L211.50 310.94 L211.58 310.75 L212.20 315.23 L212.50 317.44 L212.82 317.69 L213.44 320.23 L214.00 322.50 L214.06 322.83 L214.68 320.47 L215.30 320.29 L215.50 319.57 L215.92 318.27 L216.54 315.13 L217.00 313.42 L217.16 314.69 L217.78 315.45 L218.40 315.61 L218.50 316.03 L219.02 315.60 L219.64 315.19 L220.00 313.10 L220.26 313.01 L220.88 307.27 L221.00 306.34 L221.50 307.42 L222.12 308.87 L222.50 308.33 L222.74 307.35 L223.36 304.26 L223.50 302.06 L223.98 300.26 L224.60 297.52 L225.00 295.48 L225.22 296.28 L225.84 295.68 L226.46 297.67 L226.50 295.94 L227.08 294.59 L227.70 295.78 L228.00 294.69 L228.32 294.07 L228.94 296.36 L229.50 296.49 L229.56 296.46 L230.18 292.54 L230.80 288.85 L231.00 288.27 L231.42 289.29 L232.04 290.37 L232.50 291.10 L232.66 290.59 L233.28 290.60 L233.90 288.11 L234.00 288.54 L234.52 291.01 L235.14 290.20 L235.50 291.07 L235.76 294.27 L236.38 297.68 L236.50 300.45 L237.00 293.47 L237.50 288.51 L237.62 287.18 L238.24 284.00 L238.86 280.75 L239.00 280.76 L239.48 281.09 L240.10 282.93 L240.50 282.72 L240.72 281.18 L241.34 280.83 L241.50 280.33 L241.96 283.11 L242.58 287.42 L243.00 290.10 L243.20 289.80 L243.82 286.45 L244.44 286.29 L244.50 286.12 L245.06 289.88 L245.68 290.99 L246.00 292.49 L246.30 293.62 L246.92 296.49 L247.00 295.92 L247.54 293.90 L248.16 291.32 L248.50 289.99 L248.78 289.35 L249.40 288.11 L250.00 287.52 L250.02 286.54 L250.64 287.78 L251.26 285.81 L251.50 284.98 L251.88 286.12 L252.50 288.33 L253.00 288.69 L253.12 289.24 L253.74 290.83 L254.36 296.54 L254.50 296.26 L254.98 294.46 L255.60 295.01 L256.00 295.41 L256.22 295.56 L256.84 295.06 L257.46 296.55 L257.50 297.07 L258.08 301.64 L258.50 302.57 L258.70 304.01 L259.32 306.37 L259.50 307.51 L259.94 307.88 L260.56 309.21 L261.00 310.86 L261.18 309.03 L261.80 304.13 L262.00 301.24 L262.42 300.69 L263.04 298.32 L263.50 296.29 L263.66 296.16 L264.28 299.06 L264.90 299.38 L265.00 299.10 L265.52 299.20 L266.14 296.96 L266.50 295.06 L266.76 296.89 L267.38 300.89 L267.50 301.88 L268.00 298.28 L268.62 294.93 L269.00 294.36 L269.24 292.82 L269.86 288.06 L270.00 287.76 L270.48 285.12 L271.10 281.06 L271.50 278.77 L271.72 279.55 L272.34 278.06 L272.96 276.33 L273.00 274.90 L273.58 274.42 L274.00 272.18 L274.20 272.61 L274.82 279.45 L275.00 279.75 L275.44 280.13 L276.06 280.86 L276.50 280.47 L276.68 280.65 L277.30 282.20 L277.92 283.98 L278.00 283.99 L278.54 281.18 L279.00 278.37 L279.16 279.98 L279.78 275.63 L280.40 273.67 L280.50 273.92 L281.02 274.59 L281.64 276.03 L282.00 276.93 L282.26 276.61 L282.88 273.73 L283.50 272.60 L284.12 273.50 L284.74 275.46 L285.00 274.75 L285.36 273.74 L285.98 272.19 L286.50 272.65 L286.60 272.70 L287.22 272.42 L287.84 271.99 L288.00 270.92 L288.46 269.47 L289.08 266.90 L289.50 266.60 L289.70 267.54 L290.32 267.98 L290.94 271.44 L291.00 271.29 L291.56 272.75 L292.00 273.95 L292.18 271.31 L292.80 264.54 L293.00 262.32 L293.42 260.30 L294.04 257.45 L294.50 256.58 L294.66 256.28 L295.28 254.14 L295.90 251.61 L296.00 253.15 L296.52 251.89 L297.00 251.31 L297.14 252.42 L297.76 256.27 L298.00 256.17 L298.38 256.51 L299.00 261.17 L299.62 262.80 L300.24 263.96 L300.50 265.42 L300.86 263.80 L301.48 262.79 L301.50 262.28 L302.10 265.55 L302.72 267.11 L303.00 268.99 L303.34 268.01 L303.96 266.48 L304.50 265.10 L304.58 263.76 L305.20 263.53 L305.82 262.97 L306.00 262.40 L306.44 264.46 L307.06 265.78 L307.50 266.05 L307.68 266.58 L308.30 263.84 L308.92 262.63 L309.00 262.35 L309.54 260.06 L310.16 258.93 L310.50 258.74 L310.78 258.13 L311.40 256.09 L312.00 256.44 L312.02 256.35 L312.64 255.34 L313.26 254.38 L313.50 253.96 L313.88 253.00 L314.50 253.49 L315.00 252.89 L315.12 252.94 L315.74 254.01 L316.36 256.81 L316.50 255.57 L316.98 258.76 L317.50 262.70 L317.60 261.66 L318.22 257.56 L318.50 256.55 L318.84 255.78 L319.46 256.55 L320.00 257.12 L320.08 256.94 L320.70 259.22 L321.32 261.90 L321.50 262.78 L321.94 262.24 L322.56 263.77 L323.00 263.74 L323.18 263.73 L323.80 263.77 L324.42 266.64 L324.50 265.66 L325.04 263.72 L325.66 261.04 L326.00 260.46 L326.28 258.16 L326.90 254.81 L327.00 254.79 L327.52 257.58 L328.14 260.94 L328.50 261.95 L328.76 263.50 L329.38 265.34 L330.00 267.31 L330.62 267.87 L331.00 269.17 L331.24 268.97 L331.86 264.08 L332.48 261.18 L332.50 261.53 L333.10 257.61 L333.50 253.76 L333.72 254.39 L334.34 251.97 L334.96 253.20 L335.00 252.63 L335.58 254.59 L336.20 255.85 L336.50 256.45 L336.82 254.35 L337.44 252.54 L338.00 248.17 L338.06 248.75 L338.68 246.06 L339.30 245.80 L339.50 243.44 L339.92 247.00 L340.50 251.25 L340.54 252.00 L341.16 254.01 L341.78 255.85 L342.00 257.47 L342.40 258.67 L343.02 258.90 L343.50 258.55 L343.64 257.31 L344.26 254.70 L344.88 252.94 L345.00 252.46 L345.50 250.01 L346.00 247.86 L346.12 248.84 L346.74 253.20 L347.00 254.04 L347.36 252.86 L347.98 252.69 L348.50 251.19 L348.60 252.00 L349.22 250.79 L349.84 249.69 L350.00 249.38 L350.46 248.73 L351.08 247.61 L351.50 246.65 L351.70 245.29 L352.32 245.02 L352.50 244.91 L352.94 247.46 L353.56 249.46 L354.00 250.91 L354.18 250.89 L354.80 251.80 L355.42 252.13 L355.50 252.38 L356.04 252.84 L356.66 255.51 L357.00 255.90 L357.28 256.46 L357.90 257.33 L358.50 258.67 L358.52 259.71 L359.14 256.34 L359.76 254.28 L360.00 253.06 L360.38 253.78 L361.00 255.60 L361.50 256.17 L361.62 256.23 L362.24 252.36 L362.50 251.48 L362.86 253.55 L363.48 257.75 L364.00 259.93 L364.10 260.40 L364.72 257.89 L365.34 256.13 L365.50 256.58 L365.96 256.84 L366.58 259.22 L367.00 261.72 L367.20 261.49 L367.82 261.94 L368.44 262.15 L368.50 262.00 L369.06 262.19 L369.68 259.49 L370.00 259.16 L370.30 258.12 L370.92 256.29 L371.50 255.43 L371.54 255.64 L372.16 258.76 L372.78 257.86 L373.00 258.88 L373.40 257.36 L374.02 258.31 L374.50 257.47 L374.64 257.75 L375.26 257.33 L375.88 256.74 L376.00 257.03 L376.50 258.02 L377.12 259.99 L377.50 259.99 L377.74 259.73 L378.36 258.39 L378.98 259.40 L379.00 258.71 L379.60 261.13 L380.00 264.09 L380.22 263.87 L380.84 261.65 L381.00 261.27 L381.46 263.79 L382.00 268.09 L382.08 269.25 L382.70 271.22 L383.00 273.94 L383.32 273.25 L383.94 273.15 L384.50 272.35 L384.56 272.59 L385.18 270.57 L385.80 267.83 L386.00 267.22 L386.42 268.04 L387.04 268.12 L387.50 268.28 L387.66 270.21 L388.28 273.22 L388.50 274.72 L388.90 275.52 L389.50 279.01 L389.52 280.45 L390.14 280.97 L390.76 280.87 L391.00 280.57 L391.38 275.63 L392.00 272.21 L392.62 273.67 L393.00 275.84 L393.24 275.37 L393.86 272.18 L394.48 267.48 L394.50 267.54 L395.10 272.60 L395.50 277.45 L395.72 278.94 L396.34 282.05 L396.50 281.38 L396.96 277.66 L397.50 274.70 L397.58 274.70 L398.20 272.53 L398.82 268.08 L399.00 268.83 L399.44 266.84 L400.06 265.80 L400.50 263.28 L400.68 264.57 L401.30 265.42 L401.92 265.92 L402.00 265.43 L402.54 267.10 L403.00 268.78 L403.16 267.78 L403.78 267.81 L404.40 266.55 L404.50 267.17 L405.02 269.07 L405.50 269.96 L405.64 271.29 L406.26 270.07 L406.88 271.44 L407.00 272.48 L407.50 267.32 L408.00 263.19 L408.12 261.47 L408.74 265.64 L409.36 265.45 L409.50 266.06 L409.98 266.53 L410.60 265.38 L411.00 264.51 L411.22 264.01 L411.84 256.97 L412.00 256.15 L412.46 252.91 L413.00 249.87 L413.08 249.73 L413.70 250.09 L414.00 250.36 L414.32 250.07 L414.94 244.35 L415.00 243.91 L415.56 239.53 L416.00 237.50 L416.18 235.88 L416.80 230.45 L417.00 228.59 L417.42 230.00 L418.04 229.26 L418.50 231.05 L418.66 230.92 L419.28 231.10 L419.90 230.64 L420.00 230.08 L420.52 233.90 L421.00 236.12 L421.14 235.34 L421.76 233.48 L422.00 232.40 L422.38 235.50 L423.00 241.14 L423.62 246.36 L424.00 248.76 L424.24 249.01 L424.86 248.71 L425.48 250.29 L425.50 249.53 L426.10 246.97 L426.72 246.18 L427.00 244.11 L427.34 244.58 L427.96 246.73 L428.00 246.12 L428.58 243.12 L429.00 241.14 L429.20 240.50 L429.82 238.49 L430.00 237.66 L430.44 234.45 L431.06 230.96 L431.50 228.19 L431.68 227.49 L432.30 225.07 L432.50 223.75 L432.92 226.31 L433.54 227.88 L434.00 230.07 L434.16 231.19 L434.78 232.12 L435.00 234.13 L435.40 235.11 L436.02 239.50 L436.50 241.98 L436.64 242.64 L437.26 243.69 L437.50 245.26 L437.88 244.09 L438.50 246.64 L439.00 247.10 L439.12 247.07 L439.74 245.83 L440.00 244.73 L440.36 243.14 L440.98 242.95 L441.00 242.29 L441.60 236.77 L442.00 233.67 L442.22 231.91 L442.84 227.65 L443.00 227.28 L443.46 229.56 L444.00 231.97 L444.08 232.74 L444.70 239.14 L445.00 243.12 L445.32 242.39 L445.94 241.34 L446.50 241.37 L446.56 239.79 L447.18 243.99 L447.50 243.65 L447.80 241.72 L448.42 240.17 L449.00 236.77 L449.04 236.19 L449.66 237.05 L450.00 236.79 L450.28 233.89 L450.90 229.43 L451.00 228.71 L451.52 226.68 L452.14 223.32 L452.50 222.03 L452.76 221.53 L453.38 222.19 L454.00 222.72 L454.62 227.33 L455.00 232.20 L455.24 232.70 L455.86 229.80 L456.00 229.89 L456.48 232.71 L457.00 235.48 L457.10 234.99 L457.72 237.86 L458.00 238.17 L458.34 234.95 L458.96 227.92 L459.00 226.83 L459.58 228.62 L460.00 229.82 L460.20 232.53 L460.82 232.80 L461.00 233.99 L461.44 231.47 L462.00 226.21 L462.06 226.75 L462.68 230.43 L463.00 232.44 L463.30 230.01 L463.92 228.66 L464.50 226.37 L464.54 226.54 L465.16 225.36 L465.78 226.24 L466.00 225.63 L466.40 225.48 L467.02 226.47 L467.50 228.55 L467.64 227.76 L468.26 227.92 L468.88 230.12 L469.00 229.70 L469.50 231.85 L470.00 233.89 L470.12 232.77 L470.74 230.68 L471.36 231.18 L471.50 229.14 L471.98 228.85 L472.60 229.85 L473.00 230.12 L473.22 229.66 L473.84 228.33 L474.00 229.00 L474.46 231.08 L475.00 235.27 L475.08 236.41 L475.70 240.22 L476.00 241.37 L476.32 245.07 L476.94 250.92 L477.00 251.47 L477.56 255.66 L478.00 259.80 L478.18 261.51 L478.80 265.69 L479.00 266.14 L479.42 262.06 L480.00 257.46 L480.04 258.09 L480.66 254.96 L481.00 253.68 L481.28 254.34 L481.90 255.79 L482.00 256.39 L482.52 258.95 L483.00 262.03 L483.14 260.44 L483.76 253.86 L484.00 252.01 L484.38 252.01 L485.00 250.31 L485.50 251.31 L485.62 251.81 L486.24 253.63 L486.86 255.06 L487.00 256.07 L487.48 255.91 L488.10 253.80 L488.50 254.02 L488.72 253.84 L489.34 255.39 L489.96 254.13 L490.00 256.40 L490.58 253.95 L491.20 250.14 L491.50 250.27 L491.82 249.03 L492.44 247.31 L492.50 248.38 L493.06 252.87 L493.50 255.29 L493.68 256.26 L494.30 258.78 L494.50 258.27 L494.92 254.76 L495.50 249.89 L495.54 249.97 L496.16 250.69 L496.78 251.46 L497.00 251.91 L497.40 246.68 L498.00 239.97 L498.02 237.87 L498.64 234.64 L499.00 230.50 L499.26 229.37 L499.88 233.37 L500.00 233.81 L500.50 231.76 L501.12 229.93 L501.50 228.22 L501.74 230.57 L502.36 234.57 L502.50 236.41 L502.98 235.98 L503.60 236.51 L504.00 234.98 L504.22 235.51 L504.84 236.49 L505.46 237.82 L505.50 237.56 L506.08 242.45 L506.50 244.92 L506.70 246.53 L507.32 248.78 L507.50 249.49 L507.94 251.07 L508.56 252.51 L509.00 252.64 L509.18 252.68 L509.80 255.74 L510.00 256.54 L510.42 255.74 L511.00 254.20 L511.04 254.71 L511.66 255.97 L512.00 258.09 L512.28 258.84 L512.90 260.69 L513.50 262.06 L513.52 261.22 L514.14 262.45 L514.76 266.04 L515.00 266.53 L515.38 271.22 L516.00 276.02 L516.62 279.30 L517.00 281.12 L517.24 278.41 L517.86 268.92 L518.00 267.28 L518.48 263.49 L519.00 261.20 L519.10 261.56 L519.72 257.71 L520.00 257.38 L520.34 256.37 L520.96 250.96 L521.00 250.68 L521.58 249.63 L522.20 249.82 L522.50 248.76 L522.82 247.59 L523.44 246.73 L524.00 246.60 L524.06 245.05 L524.68 244.38 L525.30 240.55 L525.50 240.16 L525.92 237.70 L526.50 236.01 L526.54 237.62 L527.16 231.20 L527.50 228.48 L527.78 227.01 L528.40 221.52 L528.50 220.98 L529.02 221.56 L529.50 222.85 L529.64 225.10 L530.26 228.13 L530.50 231.37 L530.88 227.27 L531.50 223.91 L532.12 221.08 L532.50 220.18 L532.74 219.23 L533.36 218.51 L533.98 216.79 L534.00 216.37 L534.60 214.45 L535.00 212.37 L535.22 211.27 L535.84 208.18 L536.00 208.16 L536.46 212.06 L537.00 216.21 L537.08 215.56 L537.70 217.08 L538.00 217.64 L538.32 220.85 L538.94 225.29 L539.00 226.45 L539.56 224.71 L540.00 224.87 L540.18 225.16 L540.80 229.16 L541.00 229.75 L541.42 226.86 L542.00 224.04 L542.04 224.45 L542.66 222.10 L543.00 223.30 L543.28 225.55 L543.90 229.95 L544.00 229.88 L544.52 232.89 L545.00 233.92 L545.14 233.35 L545.76 235.14 L546.00 237.22 L546.38 240.22 L547.00 244.66 L547.62 245.93 L548.00 248.90 L548.24 247.67 L548.86 244.58 L549.00 243.94 L549.48 247.49 L550.00 250.03 L550.10 251.58 L550.72 252.98 L551.34 255.32 L551.50 255.35 L551.96 250.34 L552.50 246.71 L552.58 245.34 L553.20 243.75 L553.50 242.44 L553.82 239.91 L554.44 236.59 L554.50 235.83 L555.06 232.47 L555.50 228.73 L555.68 228.51 L556.30 229.88 L556.50 230.09 L556.92 231.49 L557.50 233.23 L557.54 233.97 L558.16 232.31 L558.50 231.80 L558.78 233.57 L559.40 234.33 L559.50 233.91 L560.02 237.31 L560.50 239.88 L560.64 239.97 L561.26 240.69 L561.88 241.80 L562.00 242.26 L562.50 240.26 L563.00 236.73 L563.12 233.37 L563.74 230.70 L564.00 228.16 L564.36 225.05 L564.98 221.26 L565.00 221.17 L565.60 223.13 L566.22 220.70 L566.50 220.25 L566.84 220.17 L567.46 222.93 L568.00 223.52 L568.08 223.40 L568.70 222.20 L569.32 223.46 L569.50 222.63 L569.94 224.96 L570.50 226.10 L570.56 226.68 L571.18 230.25 L571.50 232.21 L571.80 234.05 L572.42 234.68 L572.50 236.07 L573.04 234.00 L573.50 233.77 L573.66 234.11 L574.28 240.45 L574.50 242.25 L574.90 239.16 L575.50 234.88 L575.52 236.26 L576.14 231.13 L576.50 230.35 L576.76 228.75 L577.38 228.75 L577.50 226.31 L578.00 225.09 L578.50 222.11 L578.62 224.15 L579.24 226.14 L579.86 228.76 L580.00 230.02 L580.48 228.75 L581.00 224.83 L581.10 224.65 L581.72 222.23 L582.00 220.30 L582.34 219.04 L582.96 218.12 L583.50 219.03 L583.58 218.62 L584.20 214.93 L584.50 212.79 L584.82 215.36 L585.44 221.23 L585.50 221.09 L586.06 218.29 L586.50 216.30 L586.68 216.29 L587.30 218.13 L587.50 219.22 L587.92 215.55 L588.50 211.48 L588.54 211.74 L589.16 215.32 L589.50 218.96 L589.78 218.84 L590.40 223.54 L590.50 223.72 L591.02 227.05 L591.50 231.44 L591.64 231.28 L592.26 234.52 L592.50 233.24 L592.88 235.21 L593.50 235.27 L594.12 238.42 L594.74 240.35 L595.00 242.15 L595.36 237.41 L595.98 232.86 L596.00 232.42 L596.60 232.38 L597.00 231.31 L597.22 229.75 L597.84 222.77 L598.00 222.54 L598.46 219.57 L599.00 215.80 L599.08 213.65 L599.70 216.08 L600.32 213.79 L600.50 215.02 L600.94 211.18 L601.00 211.09 L601.56 213.42 L602.00 215.02 L602.18 214.19 L602.80 213.29 L603.42 212.14 L603.50 212.93 L604.04 213.49 L604.50 215.34 L604.66 213.94 L605.28 214.00 L605.90 212.07 L606.00 211.77 L606.52 211.31 L607.00 209.98 L607.14 209.81 L607.76 205.35 L608.00 203.60 L608.38 204.22 L609.00 204.66 L609.62 203.33 L610.24 200.84 L610.50 199.86 L610.86 200.68 L611.48 199.52 L612.00 201.71 L612.10 200.51 L612.72 197.93 L613.00 196.68 L613.34 195.50 L613.96 195.28 L614.00 195.56 L614.58 199.68 L615.00 204.06 L615.20 201.28 L615.82 198.32 L616.00 197.59 L616.44 193.48 L617.00 187.85 L617.06 189.24 L617.68 191.19 L618.00 191.27 L618.30 191.27 L618.92 188.77 L619.00 189.78 L619.54 192.00 L620.00 193.98 L620.16 195.04 L620.78 197.87 L621.00 198.74 L621.40 195.25 L622.00 192.02 L622.02 191.60 L622.64 192.26 L623.00 191.29 L623.26 192.11 L623.88 195.15 L624.00 196.45 L624.50 198.68 L625.00 201.69 L625.12 201.06 L625.74 201.07 L626.00 201.40 L626.36 198.45 L626.98 194.17 L627.00 193.33 L627.60 195.69 L628.00 196.42 L628.22 196.18 L628.84 199.67 L629.00 199.60 L629.46 197.53 L630.00 194.36 L630.08 195.16 L630.70 195.84 L631.00 197.43 L631.32 196.07 L631.94 191.94 L632.00 191.88 L632.56 189.61 L633.00 189.02 L633.18 188.43 L633.80 187.24 L634.00 186.48 L634.42 184.97 L635.00 182.60 L635.04 182.04 L635.66 182.46 L636.28 182.87 L636.50 182.14 L636.90 182.58 L637.50 184.70 L637.52 185.81 L638.14 188.37 L638.50 190.01 L638.76 189.40 L639.38 185.19 L639.50 184.14 L640.00 188.06 L640.50 191.31 L640.62 191.43 L641.24 189.88 L641.50 188.30 L641.86 186.53 L642.48 188.19 L642.50 186.88 L643.10 190.96 L643.50 194.65 L643.72 196.87 L644.34 199.68 L644.50 202.14 L644.96 204.31 L645.50 206.42 L645.58 206.82 L646.20 201.86 L646.50 199.79 L646.82 201.02 L647.44 205.20 L647.50 205.02 L648.06 203.78 L648.50 202.29 L648.68 202.98 L649.30 207.00 L649.50 208.79 L649.92 210.01 L650.50 211.66 L650.54 211.89 L651.16 214.61 L651.50 216.58 L651.78 217.65 L652.40 223.57 L652.50 225.16 L653.02 222.37 L653.50 218.76 L653.64 217.02 L654.26 213.96 L654.50 213.81 L654.88 212.84 L655.50 209.94 L656.12 211.42 L656.50 212.48 L656.74 214.53 L657.36 217.98 L657.50 217.87 L657.98 216.83 L658.50 216.94 L658.60 216.96 L659.22 219.52 L659.50 221.42 L659.84 220.14 L660.46 216.31 L660.50 217.98 L661.08 218.03 L661.50 217.12 L661.70 219.63 L662.32 222.25 L662.50 223.00 L662.94 222.30 L663.56 222.98 L664.00 222.29 L664.18 221.98 L664.80 222.70 L665.00 225.33 L665.42 223.80 L666.00 221.91 L666.04 223.38 L666.66 223.12 L667.00 226.05 L667.28 224.44 L667.90 222.95 L668.00 223.74 L668.52 221.42 L669.00 215.99 L669.14 217.98 L669.76 220.38 L670.00 222.21"/>
</g>
<filter id="g" x="0" y="0" width="680" height="548" filterUnits="userSpaceOnUse" color-interpolation-filters="sRGB"><feColorMatrix type="matrix" values="1 0 0 0 0 0 1 0 0 0 0 0 1 0 0 0 0 0 1 0"/></filter>
<g filter="url(#g)">
<text x="39.60" y="21.00" text-anchor="end" textLength="17.7" lengthAdjust="spacingAndGlyphs">60</text>
<text x="39.60" y="101.00" text-anchor="end" textLength="17.7" lengthAdjust="spacingAndGlyphs">40</text>
<text x="39.60" y="181.00" text-anchor="end" textLength="17.7" lengthAdjust="spacingAndGlyphs">20</text>
<text x="39.60" y="261.00" text-anchor="end" textLength="8.8" lengthAdjust="spacingAndGlyphs">0</text>
<text x="38.10" y="341.00" text-anchor="end" textLength="27.5" lengthAdjust="spacingAndGlyphs">−20</text>
<text x="38.10" y="421.00" text-anchor="end" textLength="27.5" lengthAdjust="spacingAndGlyphs">−40</text>
<text x="38.10" y="501.00" text-anchor="end" textLength="27.5" lengthAdjust="spacingAndGlyphs">−60</text>
<text x="49.90" y="518.75" text-anchor="middle" textLength="20.5" lengthAdjust="spacingAndGlyphs">Jan</text>
<text x="50.60" y="535.00" text-anchor="middle" textLength="34.8" lengthAdjust="spacingAndGlyphs">2000</text>
<text x="277.90" y="518.75" text-anchor="middle" textLength="20.5" lengthAdjust="spacingAndGlyphs">Jan</text>
<text x="278.60" y="535.00" text-anchor="middle" textLength="34.8" lengthAdjust="spacingAndGlyphs">2001</text>
<text x="503.90" y="518.75" text-anchor="middle" textLength="20.5" lengthAdjust="spacingAndGlyphs">Jan</text>
<text x="504.60" y="535.00" text-anchor="middle" textLength="34.8" lengthAdjust="spacingAndGlyphs">2002</text>
<text x="162.30" y="516.00" text-anchor="middle" textLength="16.2" lengthAdjust="spacingAndGlyphs">Jul</text>
<text x="389.30" y="516.00" text-anchor="middle" textLength="16.2" lengthAdjust="spacingAndGlyphs">Jul</text>
<text x="615.30" y="516.00" text-anchor="middle" textLength="16.2" lengthAdjust="spacingAndGlyphs">Jul</text>
</g>
</svg></body></html>
